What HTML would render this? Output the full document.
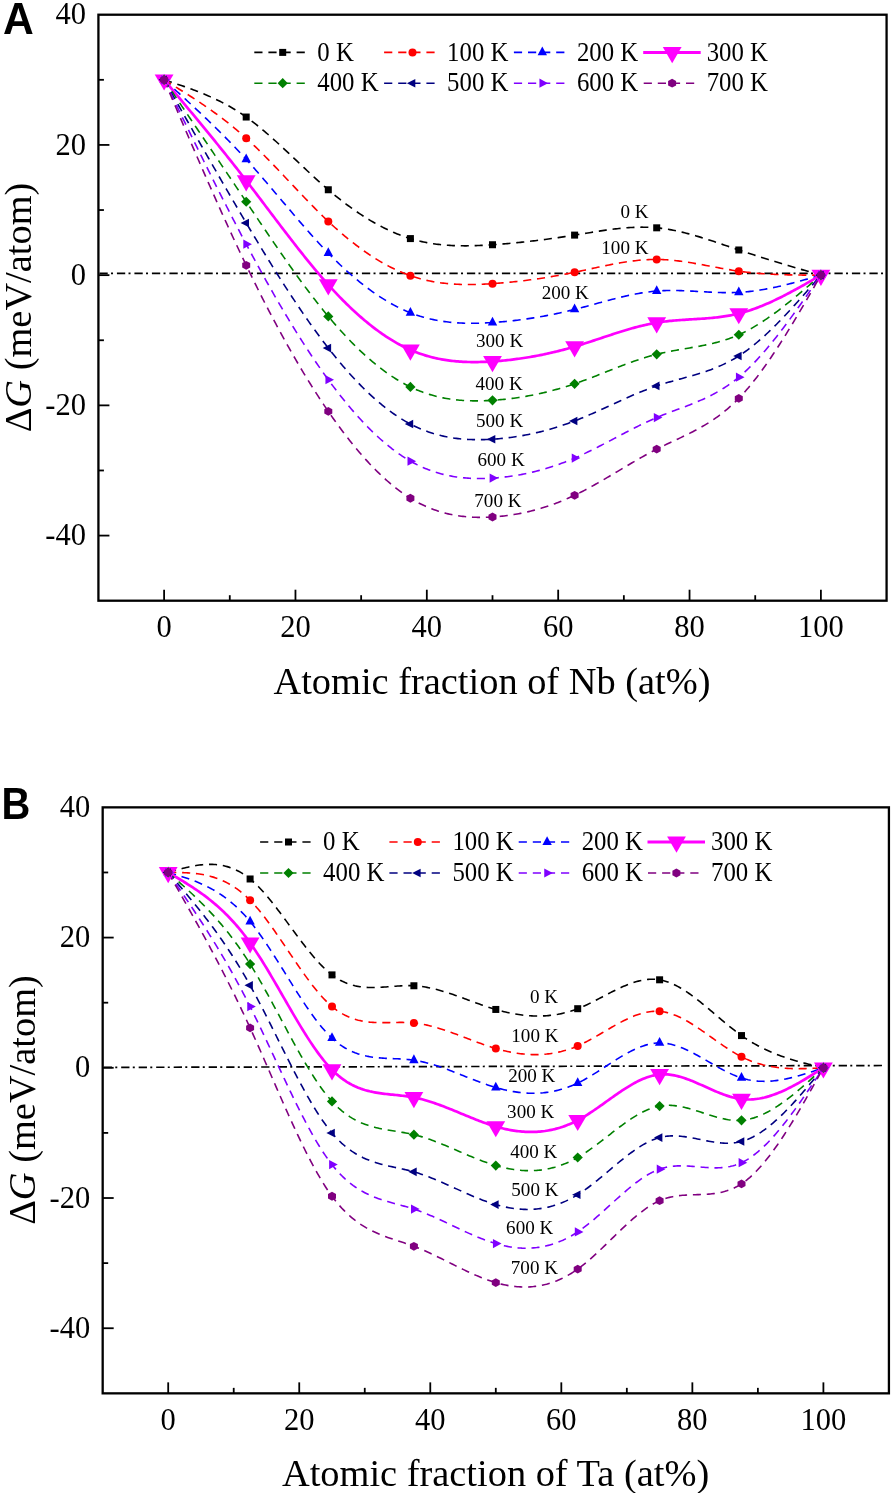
<!DOCTYPE html>
<html><head><meta charset="utf-8"><style>
html,body{margin:0;padding:0;background:#fff;}
svg{display:block;will-change:transform;}
text{font-family:"Liberation Serif",serif;fill:#000;}
.tk{font-size:30.5px;}
.ti{font-size:38.4px;}
.lg{font-size:24.8px;}
.lb{font-size:19.1px;}
.pl{font-family:"Liberation Sans",sans-serif;font-weight:bold;font-size:41px;}
</style></head><body>
<svg width="894" height="1493" viewBox="0 0 894 1493">
<rect width="894" height="1493" fill="#fff"/>
<line x1="99.42" y1="273.4" x2="885.5" y2="273.4" stroke="#000" stroke-width="1.7" stroke-dasharray="8.3 3.3 2 3.9"/>
<path d="M164.1 79.82 165.74 80.35 167.38 80.89 169.03 81.43 170.67 81.96 172.31 82.5 173.95 83.05 175.59 83.59 177.24 84.14 178.88 84.69 180.52 85.25 182.16 85.81 183.8 86.38 185.45 86.95 187.09 87.53 188.73 88.12 190.37 88.72 192.01 89.32 193.66 89.93 195.3 90.55 196.94 91.18 198.58 91.82 200.22 92.47 201.87 93.13 203.51 93.81 205.15 94.49 206.79 95.19 208.43 95.9 210.08 96.63 211.72 97.37 213.36 98.12 215 98.89 216.64 99.67 218.29 100.47 219.93 101.29 221.57 102.12 223.21 102.98 224.85 103.85 226.5 104.73 228.14 105.64 229.78 106.57 231.42 107.52 233.06 108.48 234.71 109.47 236.35 110.48 237.99 111.52 239.63 112.57 241.27 113.65 242.92 114.75 244.56 115.88 246.2 117.03 247.84 118.21 249.48 119.41 251.13 120.63 252.77 121.88 254.41 123.15 256.05 124.44 257.69 125.75 259.34 127.08 260.98 128.42 262.62 129.79 264.26 131.17 265.9 132.57 267.55 133.99 269.19 135.42 270.83 136.86 272.47 138.32 274.11 139.78 275.76 141.26 277.4 142.75 279.04 144.25 280.68 145.76 282.32 147.28 283.97 148.8 285.61 150.33 287.25 151.87 288.89 153.41 290.53 154.96 292.18 156.51 293.82 158.06 295.46 159.61 297.1 161.16 298.74 162.72 300.39 164.27 302.03 165.82 303.67 167.37 305.31 168.92 306.95 170.46 308.6 171.99 310.24 173.53 311.88 175.05 313.52 176.57 315.16 178.08 316.81 179.58 318.45 181.07 320.09 182.55 321.73 184.01 323.37 185.47 325.02 186.91 326.66 188.34 328.3 189.76 329.94 191.16 331.58 192.54 333.23 193.91 334.87 195.26 336.51 196.6 338.15 197.92 339.79 199.23 341.44 200.51 343.08 201.79 344.72 203.04 346.36 204.28 348 205.5 349.65 206.71 351.29 207.9 352.93 209.07 354.57 210.23 356.21 211.37 357.86 212.49 359.5 213.59 361.14 214.68 362.78 215.74 364.42 216.79 366.07 217.83 367.71 218.84 369.35 219.84 370.99 220.82 372.63 221.78 374.28 222.72 375.92 223.65 377.56 224.55 379.2 225.44 380.84 226.31 382.49 227.15 384.13 227.98 385.77 228.79 387.41 229.59 389.05 230.36 390.7 231.11 392.34 231.84 393.98 232.56 395.62 233.25 397.26 233.93 398.91 234.58 400.55 235.21 402.19 235.83 403.83 236.42 405.47 236.99 407.12 237.55 408.76 238.08 410.4 238.59 412.04 239.08 413.68 239.55 415.33 240 416.97 240.43 418.61 240.84 420.25 241.23 421.89 241.61 423.54 241.96 425.18 242.3 426.82 242.61 428.46 242.92 430.1 243.2 431.75 243.47 433.39 243.72 435.03 243.95 436.67 244.17 438.31 244.38 439.96 244.56 441.6 244.74 443.24 244.9 444.88 245.04 446.52 245.18 448.17 245.29 449.81 245.4 451.45 245.49 453.09 245.58 454.73 245.64 456.38 245.7 458.02 245.75 459.66 245.78 461.3 245.81 462.94 245.82 464.59 245.83 466.23 245.83 467.87 245.81 469.51 245.79 471.15 245.76 472.8 245.72 474.44 245.67 476.08 245.62 477.72 245.56 479.36 245.49 481.01 245.42 482.65 245.33 484.29 245.25 485.93 245.16 487.57 245.06 489.22 244.96 490.86 244.85 492.5 244.74 494.14 244.63 495.78 244.51 497.43 244.39 499.07 244.27 500.71 244.14 502.35 244.01 503.99 243.87 505.64 243.74 507.28 243.59 508.92 243.45 510.56 243.3 512.2 243.15 513.85 242.99 515.49 242.84 517.13 242.67 518.77 242.51 520.41 242.34 522.06 242.17 523.7 241.99 525.34 241.81 526.98 241.63 528.62 241.45 530.27 241.26 531.91 241.07 533.55 240.88 535.19 240.68 536.83 240.48 538.48 240.28 540.12 240.07 541.76 239.86 543.4 239.65 545.04 239.44 546.69 239.22 548.33 239 549.97 238.78 551.61 238.55 553.25 238.32 554.9 238.09 556.54 237.86 558.18 237.62 559.82 237.38 561.46 237.14 563.11 236.89 564.75 236.65 566.39 236.4 568.03 236.14 569.67 235.89 571.32 235.63 572.96 235.37 574.6 235.11 576.24 234.84 577.88 234.58 579.53 234.31 581.17 234.04 582.81 233.77 584.45 233.5 586.09 233.23 587.74 232.96 589.38 232.69 591.02 232.42 592.66 232.15 594.3 231.89 595.95 231.63 597.59 231.37 599.23 231.12 600.87 230.87 602.51 230.62 604.16 230.38 605.8 230.15 607.44 229.92 609.08 229.69 610.72 229.48 612.37 229.27 614.01 229.06 615.65 228.87 617.29 228.68 618.93 228.51 620.58 228.34 622.22 228.18 623.86 228.03 625.5 227.89 627.14 227.76 628.79 227.65 630.43 227.54 632.07 227.45 633.71 227.37 635.35 227.3 637 227.25 638.64 227.21 640.28 227.19 641.92 227.17 643.56 227.18 645.21 227.2 646.85 227.24 648.49 227.29 650.13 227.36 651.77 227.45 653.42 227.55 655.06 227.67 656.7 227.82 658.34 227.98 659.98 228.15 661.63 228.35 663.27 228.57 664.91 228.8 666.55 229.05 668.19 229.31 669.84 229.59 671.48 229.89 673.12 230.2 674.76 230.53 676.4 230.87 678.05 231.22 679.69 231.59 681.33 231.97 682.97 232.37 684.61 232.77 686.26 233.19 687.9 233.61 689.54 234.05 691.18 234.5 692.82 234.96 694.47 235.43 696.11 235.9 697.75 236.39 699.39 236.88 701.03 237.38 702.68 237.89 704.32 238.41 705.96 238.93 707.6 239.45 709.24 239.99 710.89 240.52 712.53 241.06 714.17 241.61 715.81 242.16 717.45 242.71 719.1 243.27 720.74 243.82 722.38 244.38 724.02 244.94 725.66 245.51 727.31 246.07 728.95 246.63 730.59 247.19 732.23 247.76 733.87 248.32 735.52 248.87 737.16 249.43 738.8 249.98 740.44 250.54 742.08 251.08 743.73 251.63 745.37 252.17 747.01 252.71 748.65 253.25 750.29 253.78 751.94 254.32 753.58 254.85 755.22 255.37 756.86 255.9 758.5 256.42 760.15 256.94 761.79 257.46 763.43 257.97 765.07 258.49 766.71 259 768.36 259.51 770 260.02 771.64 260.52 773.28 261.03 774.92 261.53 776.57 262.03 778.21 262.53 779.85 263.03 781.49 263.53 783.13 264.02 784.78 264.51 786.42 265.01 788.06 265.5 789.7 265.99 791.34 266.48 792.99 266.96 794.63 267.45 796.27 267.94 797.91 268.42 799.55 268.91 801.2 269.39 802.84 269.87 804.48 270.35 806.12 270.84 807.76 271.32 809.41 271.8 811.05 272.28 812.69 272.76 814.33 273.23 815.97 273.71 817.62 274.19 819.26 274.67 820.9 275.15" fill="none" stroke="#000000" stroke-width="1.6" stroke-dasharray="8.1 5.8"/>
<path d="M164.1 79.82 165.74 80.83 167.38 81.84 169.03 82.85 170.67 83.86 172.31 84.87 173.95 85.89 175.59 86.91 177.24 87.93 178.88 88.95 180.52 89.98 182.16 91.01 183.8 92.04 185.45 93.08 187.09 94.12 188.73 95.17 190.37 96.23 192.01 97.29 193.66 98.36 195.3 99.43 196.94 100.51 198.58 101.6 200.22 102.7 201.87 103.81 203.51 104.92 205.15 106.04 206.79 107.18 208.43 108.32 210.08 109.47 211.72 110.64 213.36 111.81 215 113 216.64 114.2 218.29 115.41 219.93 116.63 221.57 117.87 223.21 119.11 224.85 120.38 226.5 121.65 228.14 122.95 229.78 124.25 231.42 125.57 233.06 126.91 234.71 128.26 236.35 129.63 237.99 131.02 239.63 132.42 241.27 133.84 242.92 135.28 244.56 136.74 246.2 138.21 247.84 139.71 249.48 141.22 251.13 142.75 252.77 144.3 254.41 145.86 256.05 147.44 257.69 149.03 259.34 150.64 260.98 152.26 262.62 153.89 264.26 155.54 265.9 157.2 267.55 158.86 269.19 160.54 270.83 162.23 272.47 163.92 274.11 165.62 275.76 167.33 277.4 169.05 279.04 170.77 280.68 172.49 282.32 174.22 283.97 175.95 285.61 177.69 287.25 179.43 288.89 181.17 290.53 182.91 292.18 184.64 293.82 186.38 295.46 188.12 297.1 189.85 298.74 191.59 300.39 193.31 302.03 195.04 303.67 196.75 305.31 198.47 306.95 200.17 308.6 201.87 310.24 203.56 311.88 205.24 313.52 206.91 315.16 208.58 316.81 210.23 318.45 211.87 320.09 213.49 321.73 215.11 323.37 216.71 325.02 218.3 326.66 219.87 328.3 221.42 329.94 222.96 331.58 224.48 333.23 225.99 334.87 227.48 336.51 228.95 338.15 230.41 339.79 231.84 341.44 233.26 343.08 234.67 344.72 236.05 346.36 237.42 348 238.77 349.65 240.1 351.29 241.41 352.93 242.71 354.57 243.99 356.21 245.24 357.86 246.48 359.5 247.71 361.14 248.91 362.78 250.09 364.42 251.26 366.07 252.4 367.71 253.53 369.35 254.64 370.99 255.72 372.63 256.79 374.28 257.84 375.92 258.87 377.56 259.88 379.2 260.87 380.84 261.84 382.49 262.78 384.13 263.71 385.77 264.62 387.41 265.5 389.05 266.37 390.7 267.22 392.34 268.04 393.98 268.84 395.62 269.62 397.26 270.38 398.91 271.12 400.55 271.84 402.19 272.53 403.83 273.21 405.47 273.86 407.12 274.49 408.76 275.1 410.4 275.68 412.04 276.24 413.68 276.79 415.33 277.3 416.97 277.8 418.61 278.28 420.25 278.73 421.89 279.17 423.54 279.59 425.18 279.98 426.82 280.36 428.46 280.72 430.1 281.05 431.75 281.38 433.39 281.68 435.03 281.96 436.67 282.23 438.31 282.48 439.96 282.72 441.6 282.94 443.24 283.14 444.88 283.33 446.52 283.5 448.17 283.66 449.81 283.8 451.45 283.93 453.09 284.05 454.73 284.15 456.38 284.24 458.02 284.32 459.66 284.38 461.3 284.44 462.94 284.48 464.59 284.51 466.23 284.53 467.87 284.53 469.51 284.53 471.15 284.52 472.8 284.5 474.44 284.47 476.08 284.43 477.72 284.38 479.36 284.33 481.01 284.27 482.65 284.2 484.29 284.12 485.93 284.03 487.57 283.94 489.22 283.85 490.86 283.74 492.5 283.64 494.14 283.52 495.78 283.41 497.43 283.28 499.07 283.16 500.71 283.02 502.35 282.89 503.99 282.75 505.64 282.6 507.28 282.45 508.92 282.29 510.56 282.13 512.2 281.96 513.85 281.79 515.49 281.62 517.13 281.44 518.77 281.25 520.41 281.06 522.06 280.87 523.7 280.67 525.34 280.47 526.98 280.26 528.62 280.05 530.27 279.83 531.91 279.61 533.55 279.38 535.19 279.15 536.83 278.91 538.48 278.67 540.12 278.43 541.76 278.18 543.4 277.92 545.04 277.67 546.69 277.4 548.33 277.14 549.97 276.87 551.61 276.59 553.25 276.31 554.9 276.02 556.54 275.74 558.18 275.44 559.82 275.15 561.46 274.84 563.11 274.54 564.75 274.23 566.39 273.91 568.03 273.59 569.67 273.27 571.32 272.94 572.96 272.61 574.6 272.27 576.24 271.93 577.88 271.59 579.53 271.24 581.17 270.89 582.81 270.54 584.45 270.19 586.09 269.83 587.74 269.48 589.38 269.12 591.02 268.76 592.66 268.4 594.3 268.05 595.95 267.69 597.59 267.34 599.23 266.99 600.87 266.64 602.51 266.29 604.16 265.95 605.8 265.61 607.44 265.27 609.08 264.94 610.72 264.62 612.37 264.3 614.01 263.99 615.65 263.68 617.29 263.38 618.93 263.09 620.58 262.81 622.22 262.53 623.86 262.26 625.5 262 627.14 261.76 628.79 261.52 630.43 261.29 632.07 261.07 633.71 260.87 635.35 260.67 637 260.49 638.64 260.32 640.28 260.17 641.92 260.03 643.56 259.9 645.21 259.78 646.85 259.69 648.49 259.6 650.13 259.54 651.77 259.49 653.42 259.45 655.06 259.44 656.7 259.44 658.34 259.46 659.98 259.49 661.63 259.55 663.27 259.62 664.91 259.7 666.55 259.8 668.19 259.92 669.84 260.05 671.48 260.19 673.12 260.35 674.76 260.52 676.4 260.7 678.05 260.89 679.69 261.1 681.33 261.31 682.97 261.54 684.61 261.77 686.26 262.02 687.9 262.27 689.54 262.53 691.18 262.79 692.82 263.06 694.47 263.34 696.11 263.63 697.75 263.92 699.39 264.21 701.03 264.51 702.68 264.81 704.32 265.11 705.96 265.42 707.6 265.73 709.24 266.04 710.89 266.35 712.53 266.66 714.17 266.96 715.81 267.27 717.45 267.58 719.1 267.88 720.74 268.19 722.38 268.49 724.02 268.78 725.66 269.07 727.31 269.36 728.95 269.64 730.59 269.91 732.23 270.18 733.87 270.44 735.52 270.7 737.16 270.94 738.8 271.18 740.44 271.41 742.08 271.63 743.73 271.84 745.37 272.04 747.01 272.23 748.65 272.41 750.29 272.59 751.94 272.76 753.58 272.92 755.22 273.07 756.86 273.22 758.5 273.36 760.15 273.49 761.79 273.62 763.43 273.74 765.07 273.85 766.71 273.95 768.36 274.05 770 274.15 771.64 274.24 773.28 274.32 774.92 274.4 776.57 274.47 778.21 274.54 779.85 274.6 781.49 274.66 783.13 274.71 784.78 274.76 786.42 274.81 788.06 274.85 789.7 274.88 791.34 274.92 792.99 274.95 794.63 274.98 796.27 275 797.91 275.03 799.55 275.04 801.2 275.06 802.84 275.08 804.48 275.09 806.12 275.1 807.76 275.11 809.41 275.12 811.05 275.13 812.69 275.13 814.33 275.14 815.97 275.14 817.62 275.14 819.26 275.15 820.9 275.15" fill="none" stroke="#FF0000" stroke-width="1.6" stroke-dasharray="8.1 5.8"/>
<path d="M164.1 79.82 165.74 81.3 167.38 82.79 169.03 84.27 170.67 85.76 172.31 87.25 173.95 88.73 175.59 90.22 177.24 91.72 178.88 93.21 180.52 94.7 182.16 96.2 183.8 97.7 185.45 99.21 187.09 100.72 188.73 102.23 190.37 103.74 192.01 105.26 193.66 106.79 195.3 108.31 196.94 109.85 198.58 111.39 200.22 112.93 201.87 114.48 203.51 116.03 205.15 117.6 206.79 119.16 208.43 120.74 210.08 122.32 211.72 123.91 213.36 125.5 215 127.11 216.64 128.72 218.29 130.34 219.93 131.97 221.57 133.61 223.21 135.25 224.85 136.91 226.5 138.57 228.14 140.25 229.78 141.93 231.42 143.63 233.06 145.34 234.71 147.05 236.35 148.78 237.99 150.52 239.63 152.27 241.27 154.03 242.92 155.81 244.56 157.6 246.2 159.4 247.84 161.21 249.48 163.03 251.13 164.87 252.77 166.72 254.41 168.57 256.05 170.44 257.69 172.32 259.34 174.2 260.98 176.1 262.62 178 264.26 179.91 265.9 181.82 267.55 183.74 269.19 185.66 270.83 187.59 272.47 189.53 274.11 191.46 275.76 193.4 277.4 195.34 279.04 197.28 280.68 199.22 282.32 201.16 283.97 203.11 285.61 205.05 287.25 206.98 288.89 208.92 290.53 210.85 292.18 212.78 293.82 214.71 295.46 216.63 297.1 218.54 298.74 220.45 300.39 222.36 302.03 224.25 303.67 226.14 305.31 228.02 306.95 229.89 308.6 231.75 310.24 233.6 311.88 235.43 313.52 237.26 315.16 239.08 316.81 240.88 318.45 242.67 320.09 244.44 321.73 246.2 323.37 247.95 325.02 249.68 326.66 251.39 328.3 253.09 329.94 254.77 331.58 256.43 333.23 258.07 334.87 259.7 336.51 261.3 338.15 262.89 339.79 264.46 341.44 266.01 343.08 267.55 344.72 269.06 346.36 270.56 348 272.03 349.65 273.49 351.29 274.93 352.93 276.34 354.57 277.74 356.21 279.12 357.86 280.48 359.5 281.82 361.14 283.14 362.78 284.44 364.42 285.72 366.07 286.98 367.71 288.22 369.35 289.43 370.99 290.63 372.63 291.81 374.28 292.96 375.92 294.09 377.56 295.21 379.2 296.3 380.84 297.37 382.49 298.41 384.13 299.44 385.77 300.44 387.41 301.42 389.05 302.38 390.7 303.32 392.34 304.23 393.98 305.13 395.62 305.99 397.26 306.84 398.91 307.66 400.55 308.46 402.19 309.24 403.83 309.99 405.47 310.72 407.12 311.43 408.76 312.11 410.4 312.77 412.04 313.41 413.68 314.02 415.33 314.61 416.97 315.17 418.61 315.71 420.25 316.24 421.89 316.73 423.54 317.21 425.18 317.67 426.82 318.1 428.46 318.52 430.1 318.91 431.75 319.29 433.39 319.64 435.03 319.98 436.67 320.29 438.31 320.59 439.96 320.88 441.6 321.14 443.24 321.39 444.88 321.62 446.52 321.83 448.17 322.03 449.81 322.21 451.45 322.37 453.09 322.52 454.73 322.66 456.38 322.78 458.02 322.89 459.66 322.98 461.3 323.06 462.94 323.13 464.59 323.18 466.23 323.23 467.87 323.26 469.51 323.28 471.15 323.28 472.8 323.28 474.44 323.27 476.08 323.24 477.72 323.21 479.36 323.17 481.01 323.12 482.65 323.06 484.29 322.99 485.93 322.91 487.57 322.82 489.22 322.73 490.86 322.63 492.5 322.53 494.14 322.42 495.78 322.3 497.43 322.17 499.07 322.04 500.71 321.91 502.35 321.76 503.99 321.62 505.64 321.46 507.28 321.3 508.92 321.13 510.56 320.96 512.2 320.78 513.85 320.59 515.49 320.4 517.13 320.2 518.77 320 520.41 319.79 522.06 319.57 523.7 319.35 525.34 319.12 526.98 318.88 528.62 318.64 530.27 318.39 531.91 318.14 533.55 317.88 535.19 317.62 536.83 317.34 538.48 317.07 540.12 316.78 541.76 316.49 543.4 316.2 545.04 315.9 546.69 315.59 548.33 315.27 549.97 314.95 551.61 314.63 553.25 314.3 554.9 313.96 556.54 313.62 558.18 313.27 559.82 312.91 561.46 312.55 563.11 312.18 564.75 311.81 566.39 311.43 568.03 311.04 569.67 310.65 571.32 310.25 572.96 309.85 574.6 309.44 576.24 309.03 577.88 308.61 579.53 308.18 581.17 307.75 582.81 307.32 584.45 306.88 586.09 306.44 587.74 305.99 589.38 305.55 591.02 305.1 592.66 304.65 594.3 304.2 595.95 303.75 597.59 303.3 599.23 302.85 600.87 302.41 602.51 301.96 604.16 301.51 605.8 301.07 607.44 300.63 609.08 300.2 610.72 299.76 612.37 299.34 614.01 298.91 615.65 298.49 617.29 298.08 618.93 297.67 620.58 297.27 622.22 296.88 623.86 296.5 625.5 296.12 627.14 295.75 628.79 295.39 630.43 295.04 632.07 294.69 633.71 294.36 635.35 294.04 637 293.73 638.64 293.44 640.28 293.15 641.92 292.88 643.56 292.62 645.21 292.37 646.85 292.14 648.49 291.92 650.13 291.72 651.77 291.53 653.42 291.35 655.06 291.2 656.7 291.06 658.34 290.94 659.98 290.83 661.63 290.74 663.27 290.66 664.91 290.6 666.55 290.56 668.19 290.52 669.84 290.5 671.48 290.49 673.12 290.5 674.76 290.51 676.4 290.53 678.05 290.56 679.69 290.61 681.33 290.65 682.97 290.71 684.61 290.77 686.26 290.84 687.9 290.92 689.54 291 691.18 291.08 692.82 291.17 694.47 291.26 696.11 291.35 697.75 291.44 699.39 291.54 701.03 291.63 702.68 291.73 704.32 291.82 705.96 291.91 707.6 292 709.24 292.09 710.89 292.17 712.53 292.25 714.17 292.32 715.81 292.39 717.45 292.45 719.1 292.5 720.74 292.55 722.38 292.59 724.02 292.62 725.66 292.64 727.31 292.64 728.95 292.64 730.59 292.63 732.23 292.61 733.87 292.57 735.52 292.52 737.16 292.45 738.8 292.37 740.44 292.28 742.08 292.17 743.73 292.04 745.37 291.9 747.01 291.75 748.65 291.58 750.29 291.4 751.94 291.2 753.58 291 755.22 290.78 756.86 290.54 758.5 290.3 760.15 290.04 761.79 289.78 763.43 289.5 765.07 289.21 766.71 288.91 768.36 288.6 770 288.28 771.64 287.95 773.28 287.61 774.92 287.26 776.57 286.91 778.21 286.54 779.85 286.17 781.49 285.79 783.13 285.4 784.78 285.01 786.42 284.6 788.06 284.2 789.7 283.78 791.34 283.36 792.99 282.94 794.63 282.5 796.27 282.07 797.91 281.63 799.55 281.18 801.2 280.74 802.84 280.28 804.48 279.83 806.12 279.37 807.76 278.91 809.41 278.44 811.05 277.98 812.69 277.51 814.33 277.04 815.97 276.57 817.62 276.1 819.26 275.62 820.9 275.15" fill="none" stroke="#0000FF" stroke-width="1.6" stroke-dasharray="8.1 5.8"/>
<path d="M164.1 79.82 165.74 81.78 167.38 83.74 169.03 85.7 170.67 87.66 172.31 89.62 173.95 91.58 175.59 93.54 177.24 95.5 178.88 97.47 180.52 99.43 182.16 101.4 183.8 103.37 185.45 105.34 187.09 107.31 188.73 109.28 190.37 111.26 192.01 113.23 193.66 115.21 195.3 117.2 196.94 119.18 198.58 121.17 200.22 123.16 201.87 125.15 203.51 127.15 205.15 129.15 206.79 131.15 208.43 133.16 210.08 135.17 211.72 137.18 213.36 139.2 215 141.22 216.64 143.24 218.29 145.27 219.93 147.31 221.57 149.35 223.21 151.39 224.85 153.44 226.5 155.5 228.14 157.55 229.78 159.62 231.42 161.69 233.06 163.76 234.71 165.84 236.35 167.93 237.99 170.02 239.63 172.12 241.27 174.23 242.92 176.34 244.56 178.45 246.2 180.58 247.84 182.71 249.48 184.85 251.13 186.99 252.77 189.14 254.41 191.29 256.05 193.44 257.69 195.61 259.34 197.77 260.98 199.93 262.62 202.1 264.26 204.27 265.9 206.44 267.55 208.62 269.19 210.79 270.83 212.96 272.47 215.13 274.11 217.3 275.76 219.47 277.4 221.63 279.04 223.79 280.68 225.95 282.32 228.11 283.97 230.26 285.61 232.4 287.25 234.54 288.89 236.67 290.53 238.8 292.18 240.92 293.82 243.03 295.46 245.14 297.1 247.23 298.74 249.32 300.39 251.4 302.03 253.46 303.67 255.52 305.31 257.57 306.95 259.6 308.6 261.62 310.24 263.63 311.88 265.63 313.52 267.61 315.16 269.58 316.81 271.53 318.45 273.47 320.09 275.39 321.73 277.3 323.37 279.19 325.02 281.06 326.66 282.92 328.3 284.75 329.94 286.57 331.58 288.37 333.23 290.15 334.87 291.91 336.51 293.65 338.15 295.38 339.79 297.08 341.44 298.76 343.08 300.43 344.72 302.07 346.36 303.69 348 305.3 349.65 306.88 351.29 308.44 352.93 309.98 354.57 311.5 356.21 313 357.86 314.48 359.5 315.94 361.14 317.37 362.78 318.79 364.42 320.18 366.07 321.55 367.71 322.9 369.35 324.23 370.99 325.54 372.63 326.82 374.28 328.08 375.92 329.32 377.56 330.53 379.2 331.73 380.84 332.9 382.49 334.04 384.13 335.16 385.77 336.26 387.41 337.34 389.05 338.39 390.7 339.42 392.34 340.43 393.98 341.41 395.62 342.37 397.26 343.3 398.91 344.21 400.55 345.09 402.19 345.95 403.83 346.78 405.47 347.59 407.12 348.37 408.76 349.13 410.4 349.86 412.04 350.57 413.68 351.25 415.33 351.91 416.97 352.54 418.61 353.15 420.25 353.74 421.89 354.3 423.54 354.84 425.18 355.35 426.82 355.84 428.46 356.32 430.1 356.77 431.75 357.19 433.39 357.6 435.03 357.99 436.67 358.36 438.31 358.7 439.96 359.03 441.6 359.34 443.24 359.63 444.88 359.9 446.52 360.16 448.17 360.39 449.81 360.61 451.45 360.81 453.09 361 454.73 361.17 456.38 361.32 458.02 361.46 459.66 361.58 461.3 361.69 462.94 361.78 464.59 361.86 466.23 361.93 467.87 361.98 469.51 362.02 471.15 362.05 472.8 362.06 474.44 362.07 476.08 362.06 477.72 362.04 479.36 362.01 481.01 361.97 482.65 361.92 484.29 361.86 485.93 361.79 487.57 361.71 489.22 361.62 490.86 361.52 492.5 361.42 494.14 361.31 495.78 361.19 497.43 361.07 499.07 360.93 500.71 360.79 502.35 360.64 503.99 360.49 505.64 360.32 507.28 360.15 508.92 359.97 510.56 359.79 512.2 359.59 513.85 359.39 515.49 359.18 517.13 358.96 518.77 358.74 520.41 358.51 522.06 358.27 523.7 358.02 525.34 357.77 526.98 357.51 528.62 357.24 530.27 356.96 531.91 356.68 533.55 356.38 535.19 356.08 536.83 355.78 538.48 355.46 540.12 355.14 541.76 354.81 543.4 354.47 545.04 354.13 546.69 353.77 548.33 353.41 549.97 353.04 551.61 352.67 553.25 352.28 554.9 351.89 556.54 351.5 558.18 351.09 559.82 350.68 561.46 350.25 563.11 349.82 564.75 349.39 566.39 348.94 568.03 348.49 569.67 348.03 571.32 347.57 572.96 347.09 574.6 346.61 576.24 346.12 577.88 345.62 579.53 345.12 581.17 344.61 582.81 344.09 584.45 343.57 586.09 343.04 587.74 342.51 589.38 341.98 591.02 341.44 592.66 340.9 594.3 340.36 595.95 339.82 597.59 339.27 599.23 338.72 600.87 338.18 602.51 337.63 604.16 337.08 605.8 336.54 607.44 335.99 609.08 335.45 610.72 334.91 612.37 334.37 614.01 333.84 615.65 333.31 617.29 332.78 618.93 332.26 620.58 331.74 622.22 331.23 623.86 330.73 625.5 330.23 627.14 329.74 628.79 329.26 630.43 328.78 632.07 328.32 633.71 327.86 635.35 327.41 637 326.98 638.64 326.55 640.28 326.13 641.92 325.73 643.56 325.34 645.21 324.96 646.85 324.59 648.49 324.23 650.13 323.89 651.77 323.57 653.42 323.26 655.06 322.96 656.7 322.68 658.34 322.42 659.98 322.17 661.63 321.93 663.27 321.71 664.91 321.51 666.55 321.31 668.19 321.13 669.84 320.96 671.48 320.8 673.12 320.64 674.76 320.5 676.4 320.36 678.05 320.23 679.69 320.11 681.33 320 682.97 319.88 684.61 319.78 686.26 319.67 687.9 319.57 689.54 319.47 691.18 319.37 692.82 319.27 694.47 319.17 696.11 319.07 697.75 318.97 699.39 318.87 701.03 318.76 702.68 318.64 704.32 318.53 705.96 318.4 707.6 318.27 709.24 318.14 710.89 317.99 712.53 317.84 714.17 317.67 715.81 317.5 717.45 317.32 719.1 317.12 720.74 316.91 722.38 316.69 724.02 316.45 725.66 316.2 727.31 315.93 728.95 315.65 730.59 315.35 732.23 315.03 733.87 314.69 735.52 314.34 737.16 313.96 738.8 313.56 740.44 313.15 742.08 312.71 743.73 312.25 745.37 311.77 747.01 311.26 748.65 310.74 750.29 310.21 751.94 309.65 753.58 309.07 755.22 308.48 756.86 307.87 758.5 307.24 760.15 306.59 761.79 305.93 763.43 305.26 765.07 304.57 766.71 303.86 768.36 303.14 770 302.41 771.64 301.66 773.28 300.9 774.92 300.13 776.57 299.34 778.21 298.55 779.85 297.74 781.49 296.92 783.13 296.09 784.78 295.25 786.42 294.4 788.06 293.54 789.7 292.68 791.34 291.8 792.99 290.92 794.63 290.03 796.27 289.14 797.91 288.23 799.55 287.32 801.2 286.41 802.84 285.49 804.48 284.56 806.12 283.63 807.76 282.7 809.41 281.77 811.05 280.83 812.69 279.88 814.33 278.94 815.97 277.99 817.62 277.05 819.26 276.1 820.9 275.15" fill="none" stroke="#FF00FF" stroke-width="2.7" stroke-linejoin="round"/>
<path d="M164.1 79.82 165.74 82.25 167.38 84.69 169.03 87.12 170.67 89.56 172.31 91.99 173.95 94.42 175.59 96.86 177.24 99.29 178.88 101.73 180.52 104.16 182.16 106.6 183.8 109.03 185.45 111.46 187.09 113.9 188.73 116.33 190.37 118.77 192.01 121.21 193.66 123.64 195.3 126.08 196.94 128.51 198.58 130.95 200.22 133.39 201.87 135.82 203.51 138.26 205.15 140.7 206.79 143.14 208.43 145.57 210.08 148.01 211.72 150.45 213.36 152.89 215 155.33 216.64 157.77 218.29 160.21 219.93 162.65 221.57 165.09 223.21 167.53 224.85 169.97 226.5 172.42 228.14 174.86 229.78 177.3 231.42 179.74 233.06 182.19 234.71 184.63 236.35 187.08 237.99 189.52 239.63 191.97 241.27 194.42 242.92 196.86 244.56 199.31 246.2 201.76 247.84 204.21 249.48 206.66 251.13 209.11 252.77 211.56 254.41 214 256.05 216.45 257.69 218.89 259.34 221.33 260.98 223.77 262.62 226.21 264.26 228.64 265.9 231.07 267.55 233.49 269.19 235.91 270.83 238.33 272.47 240.73 274.11 243.14 275.76 245.53 277.4 247.92 279.04 250.31 280.68 252.68 282.32 255.05 283.97 257.41 285.61 259.76 287.25 262.1 288.89 264.43 290.53 266.75 292.18 269.06 293.82 271.36 295.46 273.65 297.1 275.92 298.74 278.19 300.39 280.44 302.03 282.68 303.67 284.9 305.31 287.12 306.95 289.31 308.6 291.5 310.24 293.67 311.88 295.82 313.52 297.96 315.16 300.08 316.81 302.18 318.45 304.27 320.09 306.34 321.73 308.39 323.37 310.43 325.02 312.44 326.66 314.44 328.3 316.42 329.94 318.38 331.58 320.31 333.23 322.23 334.87 324.13 336.51 326.01 338.15 327.86 339.79 329.7 341.44 331.51 343.08 333.31 344.72 335.08 346.36 336.83 348 338.56 349.65 340.27 351.29 341.95 352.93 343.62 354.57 345.26 356.21 346.88 357.86 348.48 359.5 350.05 361.14 351.61 362.78 353.14 364.42 354.64 366.07 356.13 367.71 357.59 369.35 359.03 370.99 360.44 372.63 361.83 374.28 363.2 375.92 364.54 377.56 365.86 379.2 367.16 380.84 368.43 382.49 369.67 384.13 370.89 385.77 372.09 387.41 373.26 389.05 374.41 390.7 375.53 392.34 376.62 393.98 377.69 395.62 378.74 397.26 379.75 398.91 380.75 400.55 381.71 402.19 382.65 403.83 383.57 405.47 384.45 407.12 385.31 408.76 386.15 410.4 386.95 412.04 387.73 413.68 388.49 415.33 389.21 416.97 389.91 418.61 390.59 420.25 391.24 421.89 391.86 423.54 392.46 425.18 393.04 426.82 393.59 428.46 394.12 430.1 394.62 431.75 395.1 433.39 395.56 435.03 396 436.67 396.42 438.31 396.81 439.96 397.19 441.6 397.54 443.24 397.87 444.88 398.19 446.52 398.48 448.17 398.76 449.81 399.01 451.45 399.25 453.09 399.47 454.73 399.67 456.38 399.86 458.02 400.03 459.66 400.18 461.3 400.32 462.94 400.43 464.59 400.54 466.23 400.63 467.87 400.7 469.51 400.76 471.15 400.81 472.8 400.84 474.44 400.86 476.08 400.87 477.72 400.86 479.36 400.85 481.01 400.82 482.65 400.78 484.29 400.72 485.93 400.66 487.57 400.59 489.22 400.51 490.86 400.41 492.5 400.31 494.14 400.2 495.78 400.08 497.43 399.96 499.07 399.82 500.71 399.67 502.35 399.52 503.99 399.36 505.64 399.18 507.28 399 508.92 398.81 510.56 398.61 512.2 398.41 513.85 398.19 515.49 397.96 517.13 397.73 518.77 397.48 520.41 397.23 522.06 396.97 523.7 396.7 525.34 396.42 526.98 396.13 528.62 395.83 530.27 395.53 531.91 395.21 533.55 394.89 535.19 394.55 536.83 394.21 538.48 393.86 540.12 393.49 541.76 393.12 543.4 392.74 545.04 392.35 546.69 391.96 548.33 391.55 549.97 391.13 551.61 390.71 553.25 390.27 554.9 389.83 556.54 389.38 558.18 388.91 559.82 388.44 561.46 387.96 563.11 387.47 564.75 386.97 566.39 386.46 568.03 385.94 569.67 385.41 571.32 384.88 572.96 384.33 574.6 383.78 576.24 383.21 577.88 382.64 579.53 382.05 581.17 381.46 582.81 380.87 584.45 380.26 586.09 379.65 587.74 379.03 589.38 378.41 591.02 377.78 592.66 377.15 594.3 376.52 595.95 375.88 597.59 375.24 599.23 374.59 600.87 373.94 602.51 373.3 604.16 372.65 605.8 372 607.44 371.35 609.08 370.7 610.72 370.05 612.37 369.41 614.01 368.76 615.65 368.12 617.29 367.48 618.93 366.84 620.58 366.21 622.22 365.58 623.86 364.96 625.5 364.34 627.14 363.73 628.79 363.13 630.43 362.53 632.07 361.94 633.71 361.36 635.35 360.78 637 360.22 638.64 359.66 640.28 359.11 641.92 358.58 643.56 358.05 645.21 357.54 646.85 357.04 648.49 356.55 650.13 356.07 651.77 355.61 653.42 355.16 655.06 354.72 656.7 354.3 658.34 353.9 659.98 353.51 661.63 353.13 663.27 352.76 664.91 352.41 666.55 352.07 668.19 351.73 669.84 351.41 671.48 351.1 673.12 350.79 674.76 350.49 676.4 350.19 678.05 349.9 679.69 349.62 681.33 349.34 682.97 349.06 684.61 348.78 686.26 348.5 687.9 348.22 689.54 347.94 691.18 347.66 692.82 347.38 694.47 347.09 696.11 346.8 697.75 346.5 699.39 346.19 701.03 345.88 702.68 345.56 704.32 345.23 705.96 344.9 707.6 344.55 709.24 344.19 710.89 343.81 712.53 343.43 714.17 343.03 715.81 342.61 717.45 342.18 719.1 341.74 720.74 341.27 722.38 340.79 724.02 340.29 725.66 339.76 727.31 339.22 728.95 338.66 730.59 338.07 732.23 337.46 733.87 336.82 735.52 336.16 737.16 335.47 738.8 334.76 740.44 334.02 742.08 333.25 743.73 332.45 745.37 331.63 747.01 330.78 748.65 329.91 750.29 329.01 751.94 328.09 753.58 327.15 755.22 326.18 756.86 325.19 758.5 324.18 760.15 323.15 761.79 322.09 763.43 321.02 765.07 319.93 766.71 318.81 768.36 317.68 770 316.54 771.64 315.37 773.28 314.19 774.92 312.99 776.57 311.78 778.21 310.55 779.85 309.31 781.49 308.05 783.13 306.78 784.78 305.5 786.42 304.2 788.06 302.89 789.7 301.57 791.34 300.25 792.99 298.91 794.63 297.56 796.27 296.2 797.91 294.84 799.55 293.46 801.2 292.08 802.84 290.69 804.48 289.3 806.12 287.9 807.76 286.5 809.41 285.09 811.05 283.68 812.69 282.26 814.33 280.84 815.97 279.42 817.62 278 819.26 276.57 820.9 275.15" fill="none" stroke="#008000" stroke-width="1.6" stroke-dasharray="8.1 5.8"/>
<path d="M164.1 79.82 165.74 82.73 167.38 85.64 169.03 88.55 170.67 91.45 172.31 94.36 173.95 97.27 175.59 100.17 177.24 103.08 178.88 105.99 180.52 108.89 182.16 111.79 183.8 114.69 185.45 117.59 187.09 120.49 188.73 123.39 190.37 126.28 192.01 129.18 193.66 132.07 195.3 134.96 196.94 137.85 198.58 140.73 200.22 143.62 201.87 146.5 203.51 149.37 205.15 152.25 206.79 155.12 208.43 157.99 210.08 160.86 211.72 163.72 213.36 166.58 215 169.44 216.64 172.29 218.29 175.14 219.93 177.99 221.57 180.83 223.21 183.67 224.85 186.51 226.5 189.34 228.14 192.16 229.78 194.98 231.42 197.8 233.06 200.62 234.71 203.42 236.35 206.23 237.99 209.03 239.63 211.82 241.27 214.61 242.92 217.39 244.56 220.17 246.2 222.94 247.84 225.71 249.48 228.47 251.13 231.23 252.77 233.97 254.41 236.72 256.05 239.45 257.69 242.18 259.34 244.9 260.98 247.61 262.62 250.31 264.26 253.01 265.9 255.69 267.55 258.37 269.19 261.04 270.83 263.69 272.47 266.34 274.11 268.98 275.76 271.6 277.4 274.22 279.04 276.82 280.68 279.41 282.32 281.99 283.97 284.56 285.61 287.11 287.25 289.65 288.89 292.18 290.53 294.7 292.18 297.2 293.82 299.68 295.46 302.16 297.1 304.61 298.74 307.05 300.39 309.48 302.03 311.89 303.67 314.29 305.31 316.67 306.95 319.03 308.6 321.37 310.24 323.7 311.88 326.01 313.52 328.31 315.16 330.58 316.81 332.84 318.45 335.07 320.09 337.29 321.73 339.49 323.37 341.67 325.02 343.83 326.66 345.97 328.3 348.08 329.94 350.18 331.58 352.26 333.23 354.31 334.87 356.35 336.51 358.36 338.15 360.35 339.79 362.32 341.44 364.26 343.08 366.19 344.72 368.09 346.36 369.97 348 371.82 349.65 373.66 351.29 375.47 352.93 377.25 354.57 379.02 356.21 380.76 357.86 382.48 359.5 384.17 361.14 385.84 362.78 387.49 364.42 389.11 366.07 390.7 367.71 392.28 369.35 393.82 370.99 395.35 372.63 396.85 374.28 398.32 375.92 399.77 377.56 401.19 379.2 402.58 380.84 403.96 382.49 405.3 384.13 406.62 385.77 407.91 387.41 409.18 389.05 410.42 390.7 411.63 392.34 412.82 393.98 413.98 395.62 415.11 397.26 416.21 398.91 417.29 400.55 418.34 402.19 419.36 403.83 420.35 405.47 421.32 407.12 422.26 408.76 423.17 410.4 424.05 412.04 424.9 413.68 425.72 415.33 426.52 416.97 427.28 418.61 428.02 420.25 428.74 421.89 429.43 423.54 430.09 425.18 430.72 426.82 431.33 428.46 431.92 430.1 432.48 431.75 433.01 433.39 433.53 435.03 434.01 436.67 434.48 438.31 434.92 439.96 435.34 441.6 435.74 443.24 436.12 444.88 436.47 446.52 436.81 448.17 437.12 449.81 437.42 451.45 437.69 453.09 437.95 454.73 438.18 456.38 438.4 458.02 438.6 459.66 438.78 461.3 438.94 462.94 439.09 464.59 439.22 466.23 439.33 467.87 439.43 469.51 439.51 471.15 439.57 472.8 439.62 474.44 439.66 476.08 439.68 477.72 439.69 479.36 439.69 481.01 439.67 482.65 439.64 484.29 439.59 485.93 439.54 487.57 439.47 489.22 439.39 490.86 439.3 492.5 439.21 494.14 439.1 495.78 438.98 497.43 438.85 499.07 438.71 500.71 438.56 502.35 438.4 503.99 438.23 505.64 438.05 507.28 437.85 508.92 437.65 510.56 437.44 512.2 437.22 513.85 436.99 515.49 436.74 517.13 436.49 518.77 436.23 520.41 435.95 522.06 435.67 523.7 435.38 525.34 435.07 526.98 434.76 528.62 434.43 530.27 434.09 531.91 433.75 533.55 433.39 535.19 433.02 536.83 432.64 538.48 432.25 540.12 431.85 541.76 431.44 543.4 431.02 545.04 430.58 546.69 430.14 548.33 429.69 549.97 429.22 551.61 428.75 553.25 428.26 554.9 427.76 556.54 427.25 558.18 426.74 559.82 426.21 561.46 425.66 563.11 425.11 564.75 424.55 566.39 423.98 568.03 423.39 569.67 422.8 571.32 422.19 572.96 421.57 574.6 420.94 576.24 420.3 577.88 419.65 579.53 418.99 581.17 418.32 582.81 417.64 584.45 416.95 586.09 416.26 587.74 415.55 589.38 414.84 591.02 414.13 592.66 413.4 594.3 412.67 595.95 411.94 597.59 411.2 599.23 410.46 600.87 409.71 602.51 408.97 604.16 408.21 605.8 407.46 607.44 406.71 609.08 405.95 610.72 405.2 612.37 404.44 614.01 403.68 615.65 402.93 617.29 402.18 618.93 401.43 620.58 400.68 622.22 399.94 623.86 399.19 625.5 398.46 627.14 397.73 628.79 397 630.43 396.28 632.07 395.56 633.71 394.85 635.35 394.15 637 393.46 638.64 392.77 640.28 392.1 641.92 391.43 643.56 390.77 645.21 390.13 646.85 389.49 648.49 388.86 650.13 388.25 651.77 387.65 653.42 387.06 655.06 386.49 656.7 385.92 658.34 385.38 659.98 384.84 661.63 384.32 663.27 383.81 664.91 383.31 666.55 382.82 668.19 382.34 669.84 381.87 671.48 381.4 673.12 380.94 674.76 380.48 676.4 380.03 678.05 379.58 679.69 379.13 681.33 378.68 682.97 378.23 684.61 377.78 686.26 377.33 687.9 376.87 689.54 376.41 691.18 375.95 692.82 375.48 694.47 375 696.11 374.52 697.75 374.02 699.39 373.52 701.03 373.01 702.68 372.48 704.32 371.94 705.96 371.39 707.6 370.82 709.24 370.24 710.89 369.64 712.53 369.02 714.17 368.38 715.81 367.73 717.45 367.05 719.1 366.35 720.74 365.63 722.38 364.89 724.02 364.12 725.66 363.33 727.31 362.51 728.95 361.66 730.59 360.79 732.23 359.88 733.87 358.95 735.52 357.98 737.16 356.98 738.8 355.95 740.44 354.89 742.08 353.79 743.73 352.66 745.37 351.49 747.01 350.3 748.65 349.07 750.29 347.82 751.94 346.53 753.58 345.22 755.22 343.88 756.86 342.51 758.5 341.12 760.15 339.7 761.79 338.25 763.43 336.78 765.07 335.29 766.71 333.77 768.36 332.23 770 330.67 771.64 329.08 773.28 327.48 774.92 325.86 776.57 324.21 778.21 322.55 779.85 320.88 781.49 319.18 783.13 317.47 784.78 315.74 786.42 314 788.06 312.24 789.7 310.47 791.34 308.69 792.99 306.89 794.63 305.09 796.27 303.27 797.91 301.44 799.55 299.6 801.2 297.75 802.84 295.9 804.48 294.04 806.12 292.17 807.76 290.29 809.41 288.41 811.05 286.53 812.69 284.64 814.33 282.74 815.97 280.85 817.62 278.95 819.26 277.05 820.9 275.15" fill="none" stroke="#000080" stroke-width="1.6" stroke-dasharray="8.1 5.8"/>
<path d="M164.1 79.82 165.74 83.2 167.38 86.59 169.03 89.97 170.67 93.35 172.31 96.73 173.95 100.11 175.59 103.49 177.24 106.87 178.88 110.24 180.52 113.62 182.16 116.99 183.8 120.36 185.45 123.72 187.09 127.08 188.73 130.44 190.37 133.8 192.01 137.15 193.66 140.5 195.3 143.84 196.94 147.18 198.58 150.51 200.22 153.84 201.87 157.17 203.51 160.49 205.15 163.8 206.79 167.11 208.43 170.41 210.08 173.7 211.72 176.99 213.36 180.27 215 183.55 216.64 186.82 218.29 190.08 219.93 193.33 221.57 196.57 223.21 199.81 224.85 203.04 226.5 206.26 228.14 209.47 229.78 212.67 231.42 215.86 233.06 219.04 234.71 222.21 236.35 225.38 237.99 228.53 239.63 231.67 241.27 234.8 242.92 237.92 244.56 241.03 246.2 244.13 247.84 247.21 249.48 250.28 251.13 253.34 252.77 256.39 254.41 259.43 256.05 262.45 257.69 265.46 259.34 268.46 260.98 271.45 262.62 274.42 264.26 277.37 265.9 280.32 267.55 283.25 269.19 286.16 270.83 289.06 272.47 291.94 274.11 294.81 275.76 297.67 277.4 300.51 279.04 303.33 280.68 306.14 282.32 308.93 283.97 311.71 285.61 314.47 287.25 317.21 288.89 319.93 290.53 322.64 292.18 325.33 293.82 328.01 295.46 330.66 297.1 333.3 298.74 335.92 300.39 338.52 302.03 341.11 303.67 343.67 305.31 346.22 306.95 348.74 308.6 351.25 310.24 353.74 311.88 356.21 313.52 358.65 315.16 361.08 316.81 363.49 318.45 365.87 320.09 368.24 321.73 370.58 323.37 372.91 325.02 375.21 326.66 377.49 328.3 379.75 329.94 381.99 331.58 384.2 333.23 386.39 334.87 388.56 336.51 390.71 338.15 392.83 339.79 394.93 341.44 397.01 343.08 399.07 344.72 401.1 346.36 403.1 348 405.09 349.65 407.05 351.29 408.98 352.93 410.89 354.57 412.78 356.21 414.64 357.86 416.47 359.5 418.29 361.14 420.07 362.78 421.83 364.42 423.57 366.07 425.28 367.71 426.96 369.35 428.62 370.99 430.25 372.63 431.86 374.28 433.44 375.92 434.99 377.56 436.52 379.2 438.01 380.84 439.49 382.49 440.93 384.13 442.35 385.77 443.73 387.41 445.1 389.05 446.43 390.7 447.73 392.34 449.01 393.98 450.26 395.62 451.48 397.26 452.67 398.91 453.83 400.55 454.96 402.19 456.07 403.83 457.14 405.47 458.18 407.12 459.2 408.76 460.18 410.4 461.14 412.04 462.06 413.68 462.95 415.33 463.82 416.97 464.65 418.61 465.46 420.25 466.24 421.89 466.99 423.54 467.71 425.18 468.41 426.82 469.08 428.46 469.72 430.1 470.33 431.75 470.92 433.39 471.49 435.03 472.03 436.67 472.54 438.31 473.03 439.96 473.5 441.6 473.94 443.24 474.36 444.88 474.76 446.52 475.14 448.17 475.49 449.81 475.82 451.45 476.13 453.09 476.42 454.73 476.69 456.38 476.94 458.02 477.17 459.66 477.38 461.3 477.57 462.94 477.74 464.59 477.89 466.23 478.03 467.87 478.15 469.51 478.25 471.15 478.34 472.8 478.41 474.44 478.46 476.08 478.5 477.72 478.52 479.36 478.53 481.01 478.52 482.65 478.5 484.29 478.46 485.93 478.41 487.57 478.35 489.22 478.28 490.86 478.2 492.5 478.1 494.14 477.99 495.78 477.87 497.43 477.74 499.07 477.59 500.71 477.44 502.35 477.27 503.99 477.1 505.64 476.91 507.28 476.71 508.92 476.49 510.56 476.27 512.2 476.03 513.85 475.79 515.49 475.53 517.13 475.26 518.77 474.97 520.41 474.68 522.06 474.37 523.7 474.05 525.34 473.72 526.98 473.38 528.62 473.03 530.27 472.66 531.91 472.28 533.55 471.89 535.19 471.49 536.83 471.07 538.48 470.64 540.12 470.21 541.76 469.75 543.4 469.29 545.04 468.81 546.69 468.33 548.33 467.82 549.97 467.31 551.61 466.79 553.25 466.25 554.9 465.7 556.54 465.13 558.18 464.56 559.82 463.97 561.46 463.37 563.11 462.76 564.75 462.13 566.39 461.49 568.03 460.84 569.67 460.18 571.32 459.5 572.96 458.81 574.6 458.11 576.24 457.39 577.88 456.67 579.53 455.93 581.17 455.18 582.81 454.42 584.45 453.64 586.09 452.86 587.74 452.07 589.38 451.27 591.02 450.47 592.66 449.65 594.3 448.83 595.95 448 597.59 447.17 599.23 446.33 600.87 445.48 602.51 444.63 604.16 443.78 605.8 442.92 607.44 442.07 609.08 441.2 610.72 440.34 612.37 439.47 614.01 438.61 615.65 437.74 617.29 436.88 618.93 436.01 620.58 435.15 622.22 434.29 623.86 433.43 625.5 432.57 627.14 431.72 628.79 430.87 630.43 430.02 632.07 429.18 633.71 428.35 635.35 427.52 637 426.7 638.64 425.89 640.28 425.08 641.92 424.28 643.56 423.49 645.21 422.71 646.85 421.94 648.49 421.18 650.13 420.43 651.77 419.69 653.42 418.96 655.06 418.25 656.7 417.55 658.34 416.86 659.98 416.18 661.63 415.52 663.27 414.86 664.91 414.21 666.55 413.58 668.19 412.95 669.84 412.32 671.48 411.7 673.12 411.08 674.76 410.47 676.4 409.86 678.05 409.25 679.69 408.63 681.33 408.02 682.97 407.4 684.61 406.78 686.26 406.16 687.9 405.52 689.54 404.89 691.18 404.24 692.82 403.58 694.47 402.92 696.11 402.24 697.75 401.55 699.39 400.85 701.03 400.13 702.68 399.4 704.32 398.65 705.96 397.88 707.6 397.09 709.24 396.29 710.89 395.46 712.53 394.61 714.17 393.74 715.81 392.84 717.45 391.92 719.1 390.97 720.74 389.99 722.38 388.99 724.02 387.96 725.66 386.89 727.31 385.8 728.95 384.67 730.59 383.5 732.23 382.31 733.87 381.07 735.52 379.8 737.16 378.49 738.8 377.14 740.44 375.76 742.08 374.33 743.73 372.86 745.37 371.36 747.01 369.82 748.65 368.24 750.29 366.63 751.94 364.98 753.58 363.3 755.22 361.58 756.86 359.84 758.5 358.06 760.15 356.25 761.79 354.41 763.43 352.54 765.07 350.65 766.71 348.72 768.36 346.77 770 344.8 771.64 342.8 773.28 340.77 774.92 338.72 776.57 336.65 778.21 334.56 779.85 332.44 781.49 330.31 783.13 328.16 784.78 325.99 786.42 323.8 788.06 321.59 789.7 319.37 791.34 317.13 792.99 314.88 794.63 312.61 796.27 310.33 797.91 308.04 799.55 305.74 801.2 303.43 802.84 301.1 804.48 298.77 806.12 296.43 807.76 294.09 809.41 291.73 811.05 289.38 812.69 287.01 814.33 284.64 815.97 282.27 817.62 279.9 819.26 277.53 820.9 275.15" fill="none" stroke="#8000FF" stroke-width="1.6" stroke-dasharray="8.1 5.8"/>
<path d="M164.1 79.82 165.74 83.68 167.38 87.54 169.03 91.39 170.67 95.25 172.31 99.1 173.95 102.96 175.59 106.81 177.24 110.66 178.88 114.5 180.52 118.34 182.16 122.18 183.8 126.02 185.45 129.85 187.09 133.67 188.73 137.5 190.37 141.31 192.01 145.12 193.66 148.92 195.3 152.72 196.94 156.51 198.58 160.3 200.22 164.07 201.87 167.84 203.51 171.6 205.15 175.35 206.79 179.09 208.43 182.83 210.08 186.55 211.72 190.26 213.36 193.97 215 197.66 216.64 201.34 218.29 205.01 219.93 208.67 221.57 212.32 223.21 215.95 224.85 219.57 226.5 223.18 228.14 226.77 229.78 230.35 231.42 233.92 233.06 237.47 234.71 241 236.35 244.52 237.99 248.03 239.63 251.52 241.27 254.99 242.92 258.45 244.56 261.89 246.2 265.31 247.84 268.71 249.48 272.1 251.13 275.46 252.77 278.81 254.41 282.14 256.05 285.46 257.69 288.75 259.34 292.03 260.98 295.28 262.62 298.52 264.26 301.74 265.9 304.94 267.55 308.12 269.19 311.28 270.83 314.43 272.47 317.55 274.11 320.65 275.76 323.74 277.4 326.8 279.04 329.85 280.68 332.87 282.32 335.87 283.97 338.86 285.61 341.82 287.25 344.77 288.89 347.69 290.53 350.59 292.18 353.47 293.82 356.33 295.46 359.17 297.1 361.99 298.74 364.79 300.39 367.57 302.03 370.32 303.67 373.05 305.31 375.77 306.95 378.46 308.6 381.13 310.24 383.77 311.88 386.4 313.52 389 315.16 391.58 316.81 394.14 318.45 396.68 320.09 399.19 321.73 401.68 323.37 404.15 325.02 406.59 326.66 409.02 328.3 411.41 329.94 413.79 331.58 416.14 333.23 418.47 334.87 420.78 336.51 423.06 338.15 425.32 339.79 427.55 341.44 429.76 343.08 431.94 344.72 434.1 346.36 436.24 348 438.35 349.65 440.43 351.29 442.49 352.93 444.53 354.57 446.54 356.21 448.52 357.86 450.47 359.5 452.4 361.14 454.31 362.78 456.18 364.42 458.03 366.07 459.85 367.71 461.65 369.35 463.42 370.99 465.16 372.63 466.87 374.28 468.56 375.92 470.21 377.56 471.84 379.2 473.44 380.84 475.02 382.49 476.56 384.13 478.07 385.77 479.56 387.41 481.01 389.05 482.44 390.7 483.84 392.34 485.2 393.98 486.54 395.62 487.85 397.26 489.13 398.91 490.37 400.55 491.59 402.19 492.77 403.83 493.93 405.47 495.05 407.12 496.14 408.76 497.2 410.4 498.23 412.04 499.22 413.68 500.19 415.33 501.12 416.97 502.03 418.61 502.9 420.25 503.74 421.89 504.55 423.54 505.34 425.18 506.09 426.82 506.82 428.46 507.52 430.1 508.19 431.75 508.83 433.39 509.45 435.03 510.04 436.67 510.6 438.31 511.14 439.96 511.66 441.6 512.14 443.24 512.61 444.88 513.05 446.52 513.46 448.17 513.85 449.81 514.22 451.45 514.57 453.09 514.89 454.73 515.2 456.38 515.48 458.02 515.74 459.66 515.98 461.3 516.19 462.94 516.39 464.59 516.57 466.23 516.73 467.87 516.87 469.51 516.99 471.15 517.1 472.8 517.19 474.44 517.26 476.08 517.31 477.72 517.34 479.36 517.36 481.01 517.37 482.65 517.36 484.29 517.33 485.93 517.29 487.57 517.24 489.22 517.17 490.86 517.09 492.5 516.99 494.14 516.88 495.78 516.76 497.43 516.63 499.07 516.48 500.71 516.32 502.35 516.15 503.99 515.97 505.64 515.77 507.28 515.56 508.92 515.33 510.56 515.1 512.2 514.85 513.85 514.58 515.49 514.31 517.13 514.02 518.77 513.72 520.41 513.4 522.06 513.07 523.7 512.73 525.34 512.37 526.98 512 528.62 511.62 530.27 511.22 531.91 510.81 533.55 510.39 535.19 509.95 536.83 509.5 538.48 509.04 540.12 508.56 541.76 508.07 543.4 507.56 545.04 507.04 546.69 506.51 548.33 505.96 549.97 505.4 551.61 504.83 553.25 504.24 554.9 503.63 556.54 503.01 558.18 502.38 559.82 501.74 561.46 501.08 563.11 500.4 564.75 499.71 566.39 499.01 568.03 498.29 569.67 497.56 571.32 496.81 572.96 496.05 574.6 495.28 576.24 494.49 577.88 493.68 579.53 492.86 581.17 492.03 582.81 491.19 584.45 490.34 586.09 489.47 587.74 488.59 589.38 487.71 591.02 486.81 592.66 485.9 594.3 484.99 595.95 484.06 597.59 483.13 599.23 482.2 600.87 481.25 602.51 480.3 604.16 479.35 605.8 478.39 607.44 477.42 609.08 476.45 610.72 475.48 612.37 474.51 614.01 473.53 615.65 472.56 617.29 471.58 618.93 470.6 620.58 469.62 622.22 468.64 623.86 467.66 625.5 466.68 627.14 465.71 628.79 464.74 630.43 463.77 632.07 462.81 633.71 461.85 635.35 460.89 637 459.94 638.64 459 640.28 458.06 641.92 457.13 643.56 456.21 645.21 455.3 646.85 454.39 648.49 453.49 650.13 452.61 651.77 451.73 653.42 450.86 655.06 450.01 656.7 449.17 658.34 448.34 659.98 447.52 661.63 446.71 663.27 445.91 664.91 445.12 666.55 444.33 668.19 443.55 669.84 442.77 671.48 442 673.12 441.23 674.76 440.46 676.4 439.69 678.05 438.92 679.69 438.14 681.33 437.36 682.97 436.57 684.61 435.78 686.26 434.98 687.9 434.18 689.54 433.36 691.18 432.53 692.82 431.69 694.47 430.83 696.11 429.96 697.75 429.08 699.39 428.18 701.03 427.25 702.68 426.31 704.32 425.35 705.96 424.37 707.6 423.37 709.24 422.34 710.89 421.28 712.53 420.2 714.17 419.09 715.81 417.95 717.45 416.79 719.1 415.59 720.74 414.36 722.38 413.09 724.02 411.79 725.66 410.46 727.31 409.08 728.95 407.67 730.59 406.22 732.23 404.73 733.87 403.2 735.52 401.62 737.16 400 738.8 398.34 740.44 396.63 742.08 394.87 743.73 393.07 745.37 391.22 747.01 389.33 748.65 387.4 750.29 385.43 751.94 383.42 753.58 381.37 755.22 379.28 756.86 377.16 758.5 375 760.15 372.8 761.79 370.57 763.43 368.3 765.07 366 766.71 363.68 768.36 361.32 770 358.93 771.64 356.51 773.28 354.06 774.92 351.59 776.57 349.09 778.21 346.56 779.85 344.01 781.49 341.44 783.13 338.85 784.78 336.23 786.42 333.59 788.06 330.94 789.7 328.26 791.34 325.57 792.99 322.86 794.63 320.14 796.27 317.4 797.91 314.65 799.55 311.88 801.2 309.1 802.84 306.31 804.48 303.51 806.12 300.7 807.76 297.88 809.41 295.06 811.05 292.23 812.69 289.39 814.33 286.55 815.97 283.7 817.62 280.85 819.26 278 820.9 275.15" fill="none" stroke="#800080" stroke-width="1.6" stroke-dasharray="8.1 5.8"/>
<rect x="160.6" y="76.32" width="7" height="7" fill="#000000"/>
<rect x="242.7" y="113.53" width="7" height="7" fill="#000000"/>
<rect x="324.8" y="186.26" width="7" height="7" fill="#000000"/>
<rect x="406.9" y="235.09" width="7" height="7" fill="#000000"/>
<rect x="489" y="241.24" width="7" height="7" fill="#000000"/>
<rect x="571.1" y="231.61" width="7" height="7" fill="#000000"/>
<rect x="653.2" y="224.32" width="7" height="7" fill="#000000"/>
<rect x="735.3" y="246.48" width="7" height="7" fill="#000000"/>
<rect x="817.4" y="271.65" width="7" height="7" fill="#000000"/>
<circle cx="164.1" cy="79.82" r="4" fill="#FF0000"/>
<circle cx="246.2" cy="138.21" r="4" fill="#FF0000"/>
<circle cx="328.3" cy="221.42" r="4" fill="#FF0000"/>
<circle cx="410.4" cy="275.68" r="4" fill="#FF0000"/>
<circle cx="492.5" cy="283.64" r="4" fill="#FF0000"/>
<circle cx="574.6" cy="272.27" r="4" fill="#FF0000"/>
<circle cx="656.7" cy="259.44" r="4" fill="#FF0000"/>
<circle cx="738.8" cy="271.18" r="4" fill="#FF0000"/>
<circle cx="820.9" cy="275.15" r="4" fill="#FF0000"/>
<path d="M164.1 73.95L168.8 82.75L159.4 82.75Z" fill="#0000FF"/>
<path d="M246.2 153.53L250.9 162.33L241.5 162.33Z" fill="#0000FF"/>
<path d="M328.3 247.22L333 256.02L323.6 256.02Z" fill="#0000FF"/>
<path d="M410.4 306.91L415.1 315.71L405.7 315.71Z" fill="#0000FF"/>
<path d="M492.5 316.66L497.2 325.46L487.8 325.46Z" fill="#0000FF"/>
<path d="M574.6 303.57L579.3 312.37L569.9 312.37Z" fill="#0000FF"/>
<path d="M656.7 285.19L661.4 293.99L652 293.99Z" fill="#0000FF"/>
<path d="M738.8 286.5L743.5 295.3L734.1 295.3Z" fill="#0000FF"/>
<path d="M820.9 269.28L825.6 278.08L816.2 278.08Z" fill="#0000FF"/>
<path d="M164.1 90.62L173.5 74.42L154.7 74.42Z" fill="#FF00FF"/>
<path d="M246.2 191.38L255.6 175.18L236.8 175.18Z" fill="#FF00FF"/>
<path d="M328.3 295.55L337.7 279.35L318.9 279.35Z" fill="#FF00FF"/>
<path d="M410.4 360.66L419.8 344.46L401 344.46Z" fill="#FF00FF"/>
<path d="M492.5 372.22L501.9 356.02L483.1 356.02Z" fill="#FF00FF"/>
<path d="M574.6 357.41L584 341.21L565.2 341.21Z" fill="#FF00FF"/>
<path d="M656.7 333.48L666.1 317.28L647.3 317.28Z" fill="#FF00FF"/>
<path d="M738.8 324.36L748.2 308.16L729.4 308.16Z" fill="#FF00FF"/>
<path d="M820.9 285.95L830.3 269.75L811.5 269.75Z" fill="#FF00FF"/>
<path d="M164.1 74.72L169.2 79.82L164.1 84.92L159 79.82Z" fill="#008000"/>
<path d="M246.2 196.66L251.3 201.76L246.2 206.86L241.1 201.76Z" fill="#008000"/>
<path d="M328.3 311.32L333.4 316.42L328.3 321.52L323.2 316.42Z" fill="#008000"/>
<path d="M410.4 381.85L415.5 386.95L410.4 392.05L405.3 386.95Z" fill="#008000"/>
<path d="M492.5 395.21L497.6 400.31L492.5 405.41L487.4 400.31Z" fill="#008000"/>
<path d="M574.6 378.68L579.7 383.78L574.6 388.88L569.5 383.78Z" fill="#008000"/>
<path d="M656.7 349.2L661.8 354.3L656.7 359.4L651.6 354.3Z" fill="#008000"/>
<path d="M738.8 329.66L743.9 334.76L738.8 339.86L733.7 334.76Z" fill="#008000"/>
<path d="M820.9 270.05L826 275.15L820.9 280.25L815.8 275.15Z" fill="#008000"/>
<path d="M158.5 79.82L166.9 75.52L166.9 84.12Z" fill="#000080"/>
<path d="M240.6 222.94L249 218.64L249 227.24Z" fill="#000080"/>
<path d="M322.7 348.08L331.1 343.78L331.1 352.38Z" fill="#000080"/>
<path d="M404.8 424.05L413.2 419.75L413.2 428.35Z" fill="#000080"/>
<path d="M486.9 439.21L495.3 434.91L495.3 443.51Z" fill="#000080"/>
<path d="M569 420.94L577.4 416.64L577.4 425.24Z" fill="#000080"/>
<path d="M651.1 385.92L659.5 381.62L659.5 390.22Z" fill="#000080"/>
<path d="M733.2 355.95L741.6 351.65L741.6 360.25Z" fill="#000080"/>
<path d="M815.3 275.15L823.7 270.85L823.7 279.45Z" fill="#000080"/>
<path d="M169.83 79.82L161.23 75.22L161.23 84.42Z" fill="#8000FF"/>
<path d="M251.93 244.13L243.33 239.53L243.33 248.73Z" fill="#8000FF"/>
<path d="M334.03 379.75L325.43 375.15L325.43 384.35Z" fill="#8000FF"/>
<path d="M416.13 461.14L407.53 456.54L407.53 465.74Z" fill="#8000FF"/>
<path d="M498.23 478.1L489.63 473.5L489.63 482.7Z" fill="#8000FF"/>
<path d="M580.33 458.11L571.73 453.51L571.73 462.71Z" fill="#8000FF"/>
<path d="M662.43 417.55L653.83 412.95L653.83 422.15Z" fill="#8000FF"/>
<path d="M744.53 377.14L735.93 372.54L735.93 381.74Z" fill="#8000FF"/>
<path d="M826.63 275.15L818.03 270.55L818.03 279.75Z" fill="#8000FF"/>
<path d="M164.1 75.42L168.1 77.62L168.1 82.02L164.1 84.22L160.1 82.02L160.1 77.62Z" fill="#800080"/>
<path d="M246.2 260.91L250.2 263.11L250.2 267.51L246.2 269.71L242.2 267.51L242.2 263.11Z" fill="#800080"/>
<path d="M328.3 407.01L332.3 409.21L332.3 413.61L328.3 415.81L324.3 413.61L324.3 409.21Z" fill="#800080"/>
<path d="M410.4 493.83L414.4 496.03L414.4 500.43L410.4 502.63L406.4 500.43L406.4 496.03Z" fill="#800080"/>
<path d="M492.5 512.59L496.5 514.79L496.5 519.19L492.5 521.39L488.5 519.19L488.5 514.79Z" fill="#800080"/>
<path d="M574.6 490.88L578.6 493.08L578.6 497.48L574.6 499.68L570.6 497.48L570.6 493.08Z" fill="#800080"/>
<path d="M656.7 444.77L660.7 446.97L660.7 451.37L656.7 453.57L652.7 451.37L652.7 446.97Z" fill="#800080"/>
<path d="M738.8 393.94L742.8 396.14L742.8 400.54L738.8 402.74L734.8 400.54L734.8 396.14Z" fill="#800080"/>
<path d="M820.9 270.75L824.9 272.95L824.9 277.35L820.9 279.55L816.9 277.35L816.9 272.95Z" fill="#800080"/>
<rect x="98.42" y="14.71" width="788.16" height="585.99" fill="none" stroke="#000" stroke-width="2.3"/>
<line x1="164.1" y1="600.7" x2="164.1" y2="589.7" stroke="#000" stroke-width="1.8"/>
<line x1="229.78" y1="600.7" x2="229.78" y2="595.2" stroke="#000" stroke-width="1.8"/>
<line x1="295.46" y1="600.7" x2="295.46" y2="589.7" stroke="#000" stroke-width="1.8"/>
<line x1="361.14" y1="600.7" x2="361.14" y2="595.2" stroke="#000" stroke-width="1.8"/>
<line x1="426.82" y1="600.7" x2="426.82" y2="589.7" stroke="#000" stroke-width="1.8"/>
<line x1="492.5" y1="600.7" x2="492.5" y2="595.2" stroke="#000" stroke-width="1.8"/>
<line x1="558.18" y1="600.7" x2="558.18" y2="589.7" stroke="#000" stroke-width="1.8"/>
<line x1="623.86" y1="600.7" x2="623.86" y2="595.2" stroke="#000" stroke-width="1.8"/>
<line x1="689.54" y1="600.7" x2="689.54" y2="589.7" stroke="#000" stroke-width="1.8"/>
<line x1="755.22" y1="600.7" x2="755.22" y2="595.2" stroke="#000" stroke-width="1.8"/>
<line x1="820.9" y1="600.7" x2="820.9" y2="589.7" stroke="#000" stroke-width="1.8"/>
<line x1="98.42" y1="535.59" x2="109.42" y2="535.59" stroke="#000" stroke-width="1.8"/>
<line x1="98.42" y1="470.48" x2="103.92" y2="470.48" stroke="#000" stroke-width="1.8"/>
<line x1="98.42" y1="405.37" x2="109.42" y2="405.37" stroke="#000" stroke-width="1.8"/>
<line x1="98.42" y1="340.26" x2="103.92" y2="340.26" stroke="#000" stroke-width="1.8"/>
<line x1="98.42" y1="275.15" x2="109.42" y2="275.15" stroke="#000" stroke-width="1.8"/>
<line x1="98.42" y1="210.04" x2="103.92" y2="210.04" stroke="#000" stroke-width="1.8"/>
<line x1="98.42" y1="144.93" x2="109.42" y2="144.93" stroke="#000" stroke-width="1.8"/>
<line x1="98.42" y1="79.82" x2="103.92" y2="79.82" stroke="#000" stroke-width="1.8"/>
<text x="164.1" y="636.5" class="tk" text-anchor="middle">0</text>
<text x="295.46" y="636.5" class="tk" text-anchor="middle">20</text>
<text x="426.82" y="636.5" class="tk" text-anchor="middle">40</text>
<text x="558.18" y="636.5" class="tk" text-anchor="middle">60</text>
<text x="689.54" y="636.5" class="tk" text-anchor="middle">80</text>
<text x="820.9" y="636.5" class="tk" text-anchor="middle">100</text>
<text x="85.92" y="545.19" class="tk" text-anchor="end">-40</text>
<text x="85.92" y="414.97" class="tk" text-anchor="end">-20</text>
<text x="85.92" y="284.75" class="tk" text-anchor="end">0</text>
<text x="85.92" y="154.53" class="tk" text-anchor="end">20</text>
<text x="85.92" y="24.31" class="tk" text-anchor="end">40</text>
<text x="492" y="694.2" class="ti" text-anchor="middle">Atomic fraction of Nb (at%)</text>
<text transform="translate(30.8 307.5) rotate(-90)" class="ti" text-anchor="middle">&#916;<tspan font-style="italic">G</tspan> (meV/atom)</text>
<text transform="translate(3 33.9) scale(1.039 1.062)" class="pl">A</text>
<text transform="translate(648.5 217.7) scale(1 1.015)" class="lb" text-anchor="end">0 K</text>
<text transform="translate(648.5 253.5) scale(1 1.015)" class="lb" text-anchor="end">100 K</text>
<text transform="translate(588.9 299.2) scale(1 1.015)" class="lb" text-anchor="end">200 K</text>
<text transform="translate(476 346.8) scale(1 1.015)" class="lb" text-anchor="start">300 K</text>
<text transform="translate(475.5 390) scale(1 1.015)" class="lb" text-anchor="start">400 K</text>
<text transform="translate(476 426.5) scale(1 1.015)" class="lb" text-anchor="start">500 K</text>
<text transform="translate(477.5 466.3) scale(1 1.015)" class="lb" text-anchor="start">600 K</text>
<text transform="translate(474.3 506.5) scale(1 1.015)" class="lb" text-anchor="start">700 K</text>
<line x1="254.3" y1="52.4" x2="304.8" y2="52.4" stroke="#000000" stroke-width="1.6" stroke-dasharray="8.2 5.9"/>
<rect x="279.2" y="48.9" width="7" height="7" fill="#000000"/>
<text transform="translate(317.3 60.5) scale(1 1.13)" class="lg">0 K</text>
<line x1="384.1" y1="52.4" x2="434.6" y2="52.4" stroke="#FF0000" stroke-width="1.6" stroke-dasharray="8.2 5.9"/>
<circle cx="412.5" cy="52.4" r="4" fill="#FF0000"/>
<text transform="translate(447.1 60.5) scale(1 1.13)" class="lg">100 K</text>
<line x1="513.9" y1="52.4" x2="564.4" y2="52.4" stroke="#0000FF" stroke-width="1.6" stroke-dasharray="8.2 5.9"/>
<path d="M542.3 46.53L547 55.33L537.6 55.33Z" fill="#0000FF"/>
<text transform="translate(576.9 60.5) scale(1 1.13)" class="lg">200 K</text>
<line x1="643.2" y1="52.4" x2="700.7" y2="52.4" stroke="#FF00FF" stroke-width="3"/>
<path d="M672.2 63.2L681.6 47L662.8 47Z" fill="#FF00FF"/>
<text transform="translate(706.7 60.5) scale(1 1.13)" class="lg">300 K</text>
<line x1="254.3" y1="83.2" x2="304.8" y2="83.2" stroke="#008000" stroke-width="1.6" stroke-dasharray="8.2 5.9"/>
<path d="M282.7 78.1L287.8 83.2L282.7 88.3L277.6 83.2Z" fill="#008000"/>
<text transform="translate(317.3 91.3) scale(1 1.13)" class="lg">400 K</text>
<line x1="384.1" y1="83.2" x2="434.6" y2="83.2" stroke="#000080" stroke-width="1.6" stroke-dasharray="8.2 5.9"/>
<path d="M406.9 83.2L415.3 78.9L415.3 87.5Z" fill="#000080"/>
<text transform="translate(447.1 91.3) scale(1 1.13)" class="lg">500 K</text>
<line x1="513.9" y1="83.2" x2="564.4" y2="83.2" stroke="#8000FF" stroke-width="1.6" stroke-dasharray="8.2 5.9"/>
<path d="M548.03 83.2L539.43 78.6L539.43 87.8Z" fill="#8000FF"/>
<text transform="translate(576.9 91.3) scale(1 1.13)" class="lg">600 K</text>
<line x1="643.7" y1="83.2" x2="694.2" y2="83.2" stroke="#800080" stroke-width="1.6" stroke-dasharray="8.2 5.9"/>
<path d="M672.1 78.8L676.1 81L676.1 85.4L672.1 87.6L668.1 85.4L668.1 81Z" fill="#800080"/>
<text transform="translate(706.7 91.3) scale(1 1.13)" class="lg">700 K</text>
<line x1="103.68" y1="1067.4" x2="884.6" y2="1065.5" stroke="#000" stroke-width="1.7" stroke-dasharray="8.3 3.3 2 3.9"/>
<path d="M168.2 872.47 169.84 871.99 171.48 871.52 173.11 871.05 174.75 870.58 176.39 870.12 178.03 869.66 179.67 869.21 181.3 868.78 182.94 868.35 184.58 867.94 186.22 867.55 187.86 867.17 189.49 866.8 191.13 866.46 192.77 866.14 194.41 865.83 196.05 865.55 197.68 865.3 199.32 865.07 200.96 864.87 202.6 864.7 204.24 864.56 205.87 864.45 207.51 864.38 209.15 864.34 210.79 864.34 212.43 864.37 214.06 864.45 215.7 864.56 217.34 864.72 218.98 864.92 220.62 865.17 222.25 865.46 223.89 865.8 225.53 866.19 227.17 866.63 228.81 867.12 230.44 867.67 232.08 868.28 233.72 868.94 235.36 869.65 237 870.43 238.63 871.27 240.27 872.17 241.91 873.14 243.55 874.17 245.19 875.27 246.82 876.44 248.46 877.67 250.1 878.98 251.74 880.36 253.38 881.81 255.01 883.33 256.65 884.91 258.29 886.55 259.93 888.25 261.57 890.01 263.2 891.81 264.84 893.67 266.48 895.57 268.12 897.52 269.76 899.5 271.39 901.52 273.03 903.58 274.67 905.66 276.31 907.78 277.95 909.92 279.58 912.08 281.22 914.26 282.86 916.45 284.5 918.66 286.14 920.88 287.77 923.1 289.41 925.33 291.05 927.57 292.69 929.79 294.33 932.02 295.96 934.23 297.6 936.44 299.24 938.63 300.88 940.8 302.52 942.96 304.15 945.09 305.79 947.19 307.43 949.27 309.07 951.31 310.71 953.32 312.34 955.29 313.98 957.22 315.62 959.11 317.26 960.94 318.9 962.73 320.53 964.47 322.17 966.15 323.81 967.77 325.45 969.33 327.09 970.82 328.72 972.25 330.36 973.61 332 974.89 333.64 976.09 335.28 977.22 336.91 978.28 338.55 979.27 340.19 980.19 341.83 981.04 343.47 981.83 345.1 982.56 346.74 983.23 348.38 983.84 350.02 984.39 351.66 984.9 353.29 985.35 354.93 985.75 356.57 986.1 358.21 986.41 359.85 986.68 361.48 986.91 363.12 987.1 364.76 987.25 366.4 987.37 368.04 987.46 369.67 987.52 371.31 987.55 372.95 987.55 374.59 987.53 376.23 987.49 377.86 987.44 379.5 987.36 381.14 987.27 382.78 987.17 384.42 987.06 386.05 986.94 387.69 986.82 389.33 986.69 390.97 986.56 392.61 986.43 394.24 986.3 395.88 986.18 397.52 986.06 399.16 985.95 400.8 985.86 402.43 985.78 404.07 985.71 405.71 985.66 407.35 985.63 408.99 985.63 410.62 985.64 412.26 985.69 413.9 985.76 415.54 985.86 417.18 986 418.81 986.16 420.45 986.35 422.09 986.56 423.73 986.81 425.37 987.07 427 987.36 428.64 987.68 430.28 988.02 431.92 988.38 433.56 988.76 435.19 989.15 436.83 989.57 438.47 990.01 440.11 990.46 441.75 990.93 443.38 991.41 445.02 991.91 446.66 992.43 448.3 992.95 449.94 993.49 451.57 994.03 453.21 994.59 454.85 995.15 456.49 995.72 458.13 996.3 459.76 996.89 461.4 997.48 463.04 998.08 464.68 998.67 466.32 999.27 467.95 999.88 469.59 1000.48 471.23 1001.08 472.87 1001.68 474.51 1002.28 476.14 1002.88 477.78 1003.47 479.42 1004.06 481.06 1004.64 482.7 1005.21 484.33 1005.78 485.97 1006.34 487.61 1006.89 489.25 1007.42 490.89 1007.95 492.52 1008.47 494.16 1008.97 495.8 1009.45 497.44 1009.93 499.08 1010.39 500.71 1010.83 502.35 1011.25 503.99 1011.66 505.63 1012.06 507.27 1012.44 508.9 1012.8 510.54 1013.14 512.18 1013.46 513.82 1013.77 515.46 1014.06 517.09 1014.33 518.73 1014.58 520.37 1014.82 522.01 1015.03 523.65 1015.22 525.28 1015.4 526.92 1015.55 528.56 1015.69 530.2 1015.8 531.84 1015.89 533.47 1015.96 535.11 1016.01 536.75 1016.04 538.39 1016.04 540.03 1016.02 541.66 1015.98 543.3 1015.92 544.94 1015.83 546.58 1015.72 548.22 1015.58 549.85 1015.42 551.49 1015.24 553.13 1015.03 554.77 1014.79 556.41 1014.53 558.04 1014.25 559.68 1013.93 561.32 1013.6 562.96 1013.23 564.6 1012.84 566.23 1012.42 567.87 1011.97 569.51 1011.5 571.15 1011 572.79 1010.46 574.42 1009.9 576.06 1009.31 577.7 1008.7 579.34 1008.05 580.98 1007.37 582.61 1006.67 584.25 1005.95 585.89 1005.2 587.53 1004.43 589.17 1003.65 590.8 1002.85 592.44 1002.03 594.08 1001.2 595.72 1000.36 597.36 999.52 598.99 998.66 600.63 997.8 602.27 996.94 603.91 996.08 605.55 995.22 607.18 994.36 608.82 993.5 610.46 992.66 612.1 991.82 613.74 990.99 615.37 990.17 617.01 989.37 618.65 988.59 620.29 987.82 621.93 987.07 623.56 986.35 625.2 985.65 626.84 984.97 628.48 984.32 630.12 983.7 631.75 983.12 633.39 982.56 635.03 982.04 636.67 981.56 638.31 981.12 639.94 980.72 641.58 980.36 643.22 980.05 644.86 979.78 646.5 979.56 648.13 979.4 649.77 979.28 651.41 979.22 653.05 979.22 654.69 979.27 656.32 979.39 657.96 979.56 659.6 979.8 661.24 980.11 662.88 980.48 664.51 980.91 666.15 981.4 667.79 981.95 669.43 982.56 671.07 983.22 672.7 983.93 674.34 984.69 675.98 985.51 677.62 986.36 679.26 987.27 680.89 988.21 682.53 989.2 684.17 990.22 685.81 991.28 687.45 992.38 689.08 993.51 690.72 994.67 692.36 995.86 694 997.08 695.64 998.32 697.27 999.59 698.91 1000.88 700.55 1002.19 702.19 1003.51 703.83 1004.85 705.46 1006.21 707.1 1007.57 708.74 1008.95 710.38 1010.33 712.02 1011.72 713.65 1013.12 715.29 1014.51 716.93 1015.91 718.57 1017.31 720.21 1018.7 721.84 1020.08 723.48 1021.46 725.12 1022.83 726.76 1024.19 728.4 1025.53 730.03 1026.86 731.67 1028.18 733.31 1029.47 734.95 1030.74 736.59 1031.99 738.22 1033.22 739.86 1034.41 741.5 1035.58 743.14 1036.72 744.78 1037.83 746.41 1038.91 748.05 1039.96 749.69 1040.99 751.33 1041.98 752.97 1042.95 754.6 1043.89 756.24 1044.81 757.88 1045.7 759.52 1046.57 761.16 1047.41 762.79 1048.23 764.43 1049.03 766.07 1049.8 767.71 1050.55 769.35 1051.29 770.98 1052 772.62 1052.69 774.26 1053.37 775.9 1054.02 777.54 1054.66 779.17 1055.28 780.81 1055.89 782.45 1056.47 784.09 1057.05 785.73 1057.6 787.36 1058.15 789 1058.68 790.64 1059.2 792.28 1059.7 793.92 1060.2 795.55 1060.68 797.19 1061.15 798.83 1061.62 800.47 1062.07 802.11 1062.51 803.74 1062.95 805.38 1063.38 807.02 1063.8 808.66 1064.22 810.3 1064.63 811.93 1065.04 813.57 1065.44 815.21 1065.84 816.85 1066.24 818.49 1066.63 820.12 1067.02 821.76 1067.41 823.4 1067.8" fill="none" stroke="#000000" stroke-width="1.6" stroke-dasharray="8.1 5.8"/>
<path d="M168.2 872.47 169.84 872.47 171.48 872.47 173.11 872.48 174.75 872.49 176.39 872.5 178.03 872.53 179.67 872.55 181.3 872.59 182.94 872.64 184.58 872.7 186.22 872.78 187.86 872.87 189.49 872.97 191.13 873.1 192.77 873.24 194.41 873.4 196.05 873.58 197.68 873.79 199.32 874.02 200.96 874.27 202.6 874.55 204.24 874.86 205.87 875.2 207.51 875.57 209.15 875.97 210.79 876.4 212.43 876.87 214.06 877.37 215.7 877.91 217.34 878.5 218.98 879.12 220.62 879.78 222.25 880.48 223.89 881.23 225.53 882.02 227.17 882.86 228.81 883.75 230.44 884.69 232.08 885.67 233.72 886.71 235.36 887.8 237 888.95 238.63 890.15 240.27 891.41 241.91 892.73 243.55 894.11 245.19 895.55 246.82 897.05 248.46 898.62 250.1 900.25 251.74 901.95 253.38 903.71 255.01 905.53 256.65 907.41 258.29 909.34 259.93 911.33 261.57 913.36 263.2 915.45 264.84 917.57 266.48 919.74 268.12 921.94 269.76 924.18 271.39 926.45 273.03 928.75 274.67 931.07 276.31 933.42 277.95 935.79 279.58 938.18 281.22 940.58 282.86 942.99 284.5 945.41 286.14 947.84 287.77 950.27 289.41 952.7 291.05 955.13 292.69 957.55 294.33 959.97 295.96 962.37 297.6 964.76 299.24 967.13 300.88 969.48 302.52 971.81 304.15 974.11 305.79 976.39 307.43 978.63 309.07 980.84 310.71 983.01 312.34 985.14 313.98 987.22 315.62 989.26 317.26 991.26 318.9 993.2 320.53 995.08 322.17 996.91 323.81 998.68 325.45 1000.38 327.09 1002.02 328.72 1003.59 330.36 1005.09 332 1006.51 333.64 1007.86 335.28 1009.13 336.91 1010.32 338.55 1011.45 340.19 1012.5 341.83 1013.49 343.47 1014.42 345.1 1015.28 346.74 1016.08 348.38 1016.82 350.02 1017.5 351.66 1018.14 353.29 1018.72 354.93 1019.24 356.57 1019.73 358.21 1020.16 359.85 1020.55 361.48 1020.9 363.12 1021.21 364.76 1021.49 366.4 1021.73 368.04 1021.93 369.67 1022.11 371.31 1022.25 372.95 1022.37 374.59 1022.47 376.23 1022.54 377.86 1022.6 379.5 1022.63 381.14 1022.65 382.78 1022.66 384.42 1022.65 386.05 1022.63 387.69 1022.61 389.33 1022.58 390.97 1022.55 392.61 1022.52 394.24 1022.49 395.88 1022.46 397.52 1022.44 399.16 1022.42 400.8 1022.42 402.43 1022.42 404.07 1022.45 405.71 1022.48 407.35 1022.54 408.99 1022.61 410.62 1022.71 412.26 1022.83 413.9 1022.98 415.54 1023.16 417.18 1023.37 418.81 1023.6 420.45 1023.86 422.09 1024.14 423.73 1024.45 425.37 1024.78 427 1025.14 428.64 1025.51 430.28 1025.91 431.92 1026.33 433.56 1026.77 435.19 1027.22 436.83 1027.69 438.47 1028.18 440.11 1028.68 441.75 1029.2 443.38 1029.73 445.02 1030.27 446.66 1030.83 448.3 1031.4 449.94 1031.97 451.57 1032.56 453.21 1033.15 454.85 1033.75 456.49 1034.36 458.13 1034.97 459.76 1035.59 461.4 1036.21 463.04 1036.83 464.68 1037.46 466.32 1038.08 467.95 1038.71 469.59 1039.33 471.23 1039.96 472.87 1040.58 474.51 1041.2 476.14 1041.81 477.78 1042.41 479.42 1043.02 481.06 1043.61 482.7 1044.2 484.33 1044.77 485.97 1045.34 487.61 1045.89 489.25 1046.44 490.89 1046.97 492.52 1047.49 494.16 1047.99 495.8 1048.48 497.44 1048.95 499.08 1049.41 500.71 1049.85 502.35 1050.27 503.99 1050.67 505.63 1051.06 507.27 1051.43 508.9 1051.78 510.54 1052.11 512.18 1052.42 513.82 1052.71 515.46 1052.99 517.09 1053.24 518.73 1053.47 520.37 1053.69 522.01 1053.88 523.65 1054.05 525.28 1054.2 526.92 1054.33 528.56 1054.43 530.2 1054.52 531.84 1054.58 533.47 1054.62 535.11 1054.63 536.75 1054.63 538.39 1054.59 540.03 1054.54 541.66 1054.46 543.3 1054.35 544.94 1054.22 546.58 1054.07 548.22 1053.88 549.85 1053.68 551.49 1053.44 553.13 1053.18 554.77 1052.9 556.41 1052.58 558.04 1052.24 559.68 1051.87 561.32 1051.48 562.96 1051.05 564.6 1050.6 566.23 1050.11 567.87 1049.6 569.51 1049.06 571.15 1048.49 572.79 1047.89 574.42 1047.25 576.06 1046.59 577.7 1045.9 579.34 1045.17 580.98 1044.42 582.61 1043.63 584.25 1042.83 585.89 1042 587.53 1041.14 589.17 1040.27 590.8 1039.38 592.44 1038.47 594.08 1037.55 595.72 1036.62 597.36 1035.68 598.99 1034.72 600.63 1033.77 602.27 1032.81 603.91 1031.84 605.55 1030.88 607.18 1029.91 608.82 1028.95 610.46 1028 612.1 1027.05 613.74 1026.11 615.37 1025.18 617.01 1024.27 618.65 1023.37 620.29 1022.49 621.93 1021.62 623.56 1020.78 625.2 1019.96 626.84 1019.16 628.48 1018.39 630.12 1017.65 631.75 1016.94 633.39 1016.26 635.03 1015.62 636.67 1015.01 638.31 1014.44 639.94 1013.91 641.58 1013.42 643.22 1012.97 644.86 1012.58 646.5 1012.22 648.13 1011.92 649.77 1011.67 651.41 1011.48 653.05 1011.33 654.69 1011.25 656.32 1011.22 657.96 1011.26 659.6 1011.36 661.24 1011.52 662.88 1011.75 664.51 1012.04 666.15 1012.39 667.79 1012.79 669.43 1013.25 671.07 1013.76 672.7 1014.32 674.34 1014.93 675.98 1015.59 677.62 1016.29 679.26 1017.03 680.89 1017.82 682.53 1018.64 684.17 1019.5 685.81 1020.4 687.45 1021.32 689.08 1022.28 690.72 1023.27 692.36 1024.28 694 1025.32 695.64 1026.37 697.27 1027.45 698.91 1028.55 700.55 1029.66 702.19 1030.79 703.83 1031.93 705.46 1033.08 707.1 1034.23 708.74 1035.4 710.38 1036.56 712.02 1037.73 713.65 1038.9 715.29 1040.07 716.93 1041.23 718.57 1042.39 720.21 1043.53 721.84 1044.67 723.48 1045.79 725.12 1046.9 726.76 1048 728.4 1049.07 730.03 1050.13 731.67 1051.16 733.31 1052.17 734.95 1053.15 736.59 1054.1 738.22 1055.02 739.86 1055.91 741.5 1056.76 743.14 1057.58 744.78 1058.36 746.41 1059.11 748.05 1059.82 749.69 1060.49 751.33 1061.14 752.97 1061.75 754.6 1062.33 756.24 1062.88 757.88 1063.39 759.52 1063.88 761.16 1064.34 762.79 1064.78 764.43 1065.18 766.07 1065.56 767.71 1065.91 769.35 1066.24 770.98 1066.54 772.62 1066.82 774.26 1067.08 775.9 1067.31 777.54 1067.52 779.17 1067.72 780.81 1067.89 782.45 1068.04 784.09 1068.18 785.73 1068.29 787.36 1068.39 789 1068.48 790.64 1068.55 792.28 1068.6 793.92 1068.64 795.55 1068.67 797.19 1068.68 798.83 1068.68 800.47 1068.67 802.11 1068.65 803.74 1068.63 805.38 1068.59 807.02 1068.54 808.66 1068.49 810.3 1068.43 811.93 1068.36 813.57 1068.29 815.21 1068.22 816.85 1068.14 818.49 1068.06 820.12 1067.97 821.76 1067.89 823.4 1067.8" fill="none" stroke="#FF0000" stroke-width="1.6" stroke-dasharray="8.1 5.8"/>
<path d="M168.2 872.47 169.84 872.95 171.48 873.43 173.11 873.91 174.75 874.4 176.39 874.89 178.03 875.39 179.67 875.9 181.3 876.41 182.94 876.93 184.58 877.47 186.22 878.01 187.86 878.57 189.49 879.14 191.13 879.73 192.77 880.34 194.41 880.96 196.05 881.61 197.68 882.27 199.32 882.96 200.96 883.67 202.6 884.4 204.24 885.16 205.87 885.94 207.51 886.75 209.15 887.59 210.79 888.46 212.43 889.37 214.06 890.3 215.7 891.27 217.34 892.27 218.98 893.31 220.62 894.39 222.25 895.5 223.89 896.66 225.53 897.85 227.17 899.09 228.81 900.37 230.44 901.7 232.08 903.07 233.72 904.49 235.36 905.96 237 907.47 238.63 909.04 240.27 910.66 241.91 912.33 243.55 914.05 245.19 915.83 246.82 917.67 248.46 919.57 250.1 921.52 251.74 923.53 253.38 925.6 255.01 927.73 256.65 929.91 258.29 932.13 259.93 934.41 261.57 936.72 263.2 939.08 264.84 941.48 266.48 943.91 268.12 946.37 269.76 948.86 271.39 951.38 273.03 953.92 274.67 956.49 276.31 959.07 277.95 961.67 279.58 964.28 281.22 966.9 282.86 969.53 284.5 972.17 286.14 974.8 287.77 977.44 289.41 980.07 291.05 982.7 292.69 985.31 294.33 987.92 295.96 990.51 297.6 993.08 299.24 995.63 300.88 998.16 302.52 1000.66 304.15 1003.14 305.79 1005.58 307.43 1007.99 309.07 1010.36 310.71 1012.69 312.34 1014.98 313.98 1017.23 315.62 1019.42 317.26 1021.57 318.9 1023.66 320.53 1025.69 322.17 1027.67 323.81 1029.59 325.45 1031.44 327.09 1033.22 328.72 1034.93 330.36 1036.57 332 1038.13 333.64 1039.62 335.28 1041.03 336.91 1042.36 338.55 1043.62 340.19 1044.82 341.83 1045.94 343.47 1047 345.1 1047.99 346.74 1048.93 348.38 1049.8 350.02 1050.62 351.66 1051.38 353.29 1052.08 354.93 1052.74 356.57 1053.35 358.21 1053.91 359.85 1054.43 361.48 1054.9 363.12 1055.33 364.76 1055.73 366.4 1056.09 368.04 1056.41 369.67 1056.7 371.31 1056.96 372.95 1057.2 374.59 1057.41 376.23 1057.59 377.86 1057.76 379.5 1057.9 381.14 1058.03 382.78 1058.14 384.42 1058.24 386.05 1058.33 387.69 1058.41 389.33 1058.48 390.97 1058.55 392.61 1058.61 394.24 1058.68 395.88 1058.74 397.52 1058.81 399.16 1058.89 400.8 1058.98 402.43 1059.07 404.07 1059.18 405.71 1059.3 407.35 1059.44 408.99 1059.6 410.62 1059.78 412.26 1059.98 413.9 1060.2 415.54 1060.46 417.18 1060.74 418.81 1061.04 420.45 1061.37 422.09 1061.72 423.73 1062.1 425.37 1062.49 427 1062.91 428.64 1063.35 430.28 1063.81 431.92 1064.28 433.56 1064.78 435.19 1065.28 436.83 1065.81 438.47 1066.35 440.11 1066.9 441.75 1067.47 443.38 1068.05 445.02 1068.63 446.66 1069.23 448.3 1069.84 449.94 1070.46 451.57 1071.08 453.21 1071.71 454.85 1072.35 456.49 1072.99 458.13 1073.64 459.76 1074.29 461.4 1074.94 463.04 1075.59 464.68 1076.24 466.32 1076.89 467.95 1077.54 469.59 1078.19 471.23 1078.83 472.87 1079.47 474.51 1080.11 476.14 1080.74 477.78 1081.36 479.42 1081.98 481.06 1082.58 482.7 1083.18 484.33 1083.77 485.97 1084.34 487.61 1084.9 489.25 1085.45 490.89 1085.99 492.52 1086.51 494.16 1087.02 495.8 1087.5 497.44 1087.98 499.08 1088.43 500.71 1088.86 502.35 1089.28 503.99 1089.68 505.63 1090.06 507.27 1090.42 508.9 1090.76 510.54 1091.08 512.18 1091.38 513.82 1091.66 515.46 1091.91 517.09 1092.15 518.73 1092.36 520.37 1092.56 522.01 1092.73 523.65 1092.88 525.28 1093 526.92 1093.1 528.56 1093.18 530.2 1093.24 531.84 1093.27 533.47 1093.28 535.11 1093.26 536.75 1093.22 538.39 1093.15 540.03 1093.05 541.66 1092.93 543.3 1092.79 544.94 1092.61 546.58 1092.41 548.22 1092.19 549.85 1091.93 551.49 1091.65 553.13 1091.34 554.77 1091 556.41 1090.63 558.04 1090.24 559.68 1089.81 561.32 1089.35 562.96 1088.87 564.6 1088.35 566.23 1087.81 567.87 1087.23 569.51 1086.62 571.15 1085.98 572.79 1085.31 574.42 1084.6 576.06 1083.87 577.7 1083.1 579.34 1082.29 580.98 1081.46 582.61 1080.6 584.25 1079.71 585.89 1078.79 587.53 1077.85 589.17 1076.89 590.8 1075.91 592.44 1074.91 594.08 1073.9 595.72 1072.87 597.36 1071.83 598.99 1070.79 600.63 1069.73 602.27 1068.67 603.91 1067.6 605.55 1066.53 607.18 1065.47 608.82 1064.4 610.46 1063.34 612.1 1062.28 613.74 1061.23 615.37 1060.19 617.01 1059.17 618.65 1058.15 620.29 1057.15 621.93 1056.17 623.56 1055.21 625.2 1054.27 626.84 1053.36 628.48 1052.46 630.12 1051.6 631.75 1050.77 633.39 1049.96 635.03 1049.19 636.67 1048.45 638.31 1047.76 639.94 1047.1 641.58 1046.48 643.22 1045.9 644.86 1045.37 646.5 1044.88 648.13 1044.45 649.77 1044.06 651.41 1043.73 653.05 1043.45 654.69 1043.23 656.32 1043.06 657.96 1042.96 659.6 1042.92 661.24 1042.94 662.88 1043.02 664.51 1043.17 666.15 1043.37 667.79 1043.63 669.43 1043.94 671.07 1044.3 672.7 1044.71 674.34 1045.17 675.98 1045.67 677.62 1046.22 679.26 1046.8 680.89 1047.43 682.53 1048.09 684.17 1048.78 685.81 1049.51 687.45 1050.27 689.08 1051.05 690.72 1051.86 692.36 1052.7 694 1053.55 695.64 1054.43 697.27 1055.32 698.91 1056.22 700.55 1057.14 702.19 1058.07 703.83 1059.01 705.46 1059.95 707.1 1060.9 708.74 1061.85 710.38 1062.8 712.02 1063.74 713.65 1064.69 715.29 1065.62 716.93 1066.55 718.57 1067.47 720.21 1068.37 721.84 1069.26 723.48 1070.13 725.12 1070.98 726.76 1071.81 728.4 1072.61 730.03 1073.39 731.67 1074.14 733.31 1074.86 734.95 1075.55 736.59 1076.21 738.22 1076.82 739.86 1077.4 741.5 1077.94 743.14 1078.43 744.78 1078.89 746.41 1079.3 748.05 1079.67 749.69 1080 751.33 1080.29 752.97 1080.55 754.6 1080.76 756.24 1080.94 757.88 1081.09 759.52 1081.2 761.16 1081.28 762.79 1081.32 764.43 1081.33 766.07 1081.32 767.71 1081.27 769.35 1081.19 770.98 1081.08 772.62 1080.95 774.26 1080.79 775.9 1080.6 777.54 1080.39 779.17 1080.15 780.81 1079.89 782.45 1079.61 784.09 1079.31 785.73 1078.98 787.36 1078.64 789 1078.28 790.64 1077.9 792.28 1077.5 793.92 1077.08 795.55 1076.65 797.19 1076.21 798.83 1075.75 800.47 1075.28 802.11 1074.79 803.74 1074.3 805.38 1073.79 807.02 1073.28 808.66 1072.76 810.3 1072.23 811.93 1071.69 813.57 1071.14 815.21 1070.59 816.85 1070.04 818.49 1069.48 820.12 1068.92 821.76 1068.36 823.4 1067.8" fill="none" stroke="#0000FF" stroke-width="1.6" stroke-dasharray="8.1 5.8"/>
<path d="M168.2 872.47 169.84 873.43 171.48 874.39 173.11 875.35 174.75 876.31 176.39 877.28 178.03 878.26 179.67 879.24 181.3 880.22 182.94 881.22 184.58 882.23 186.22 883.24 187.86 884.27 189.49 885.32 191.13 886.37 192.77 887.44 194.41 888.53 196.05 889.63 197.68 890.76 199.32 891.9 200.96 893.06 202.6 894.24 204.24 895.45 205.87 896.68 207.51 897.94 209.15 899.22 210.79 900.53 212.43 901.86 214.06 903.23 215.7 904.62 217.34 906.05 218.98 907.51 220.62 909 222.25 910.52 223.89 912.09 225.53 913.69 227.17 915.32 228.81 917 230.44 918.71 232.08 920.47 233.72 922.26 235.36 924.11 237 925.99 238.63 927.92 240.27 929.9 241.91 931.92 243.55 933.99 245.19 936.12 246.82 938.29 248.46 940.51 250.1 942.79 251.74 945.12 253.38 947.5 255.01 949.93 256.65 952.41 258.29 954.92 259.93 957.48 261.57 960.08 263.2 962.71 264.84 965.38 266.48 968.07 268.12 970.79 269.76 973.54 271.39 976.31 273.03 979.1 274.67 981.9 276.31 984.72 277.95 987.55 279.58 990.39 281.22 993.23 282.86 996.08 284.5 998.92 286.14 1001.77 287.77 1004.61 289.41 1007.44 291.05 1010.26 292.69 1013.07 294.33 1015.87 295.96 1018.64 297.6 1021.4 299.24 1024.13 300.88 1026.84 302.52 1029.52 304.15 1032.16 305.79 1034.77 307.43 1037.35 309.07 1039.88 310.71 1042.38 312.34 1044.83 313.98 1047.23 315.62 1049.58 317.26 1051.88 318.9 1054.12 320.53 1056.31 322.17 1058.43 323.81 1060.49 325.45 1062.49 327.09 1064.41 328.72 1066.27 330.36 1068.05 332 1069.75 333.64 1071.38 335.28 1072.93 336.91 1074.4 338.55 1075.8 340.19 1077.13 341.83 1078.39 343.47 1079.58 345.1 1080.71 346.74 1081.78 348.38 1082.78 350.02 1083.73 351.66 1084.62 353.29 1085.45 354.93 1086.24 356.57 1086.97 358.21 1087.66 359.85 1088.3 361.48 1088.9 363.12 1089.45 364.76 1089.97 366.4 1090.44 368.04 1090.89 369.67 1091.3 371.31 1091.67 372.95 1092.02 374.59 1092.34 376.23 1092.64 377.86 1092.92 379.5 1093.17 381.14 1093.4 382.78 1093.62 384.42 1093.83 386.05 1094.02 387.69 1094.2 389.33 1094.37 390.97 1094.54 392.61 1094.7 394.24 1094.87 395.88 1095.03 397.52 1095.19 399.16 1095.36 400.8 1095.54 402.43 1095.72 404.07 1095.91 405.71 1096.12 407.35 1096.34 408.99 1096.58 410.62 1096.84 412.26 1097.12 413.9 1097.43 415.54 1097.75 417.18 1098.11 418.81 1098.48 420.45 1098.88 422.09 1099.3 423.73 1099.74 425.37 1100.21 427 1100.69 428.64 1101.19 430.28 1101.7 431.92 1102.24 433.56 1102.79 435.19 1103.35 436.83 1103.93 438.47 1104.52 440.11 1105.12 441.75 1105.74 443.38 1106.36 445.02 1106.99 446.66 1107.64 448.3 1108.29 449.94 1108.95 451.57 1109.61 453.21 1110.28 454.85 1110.95 456.49 1111.62 458.13 1112.3 459.76 1112.98 461.4 1113.66 463.04 1114.34 464.68 1115.02 466.32 1115.7 467.95 1116.37 469.59 1117.04 471.23 1117.71 472.87 1118.37 474.51 1119.02 476.14 1119.67 477.78 1120.31 479.42 1120.94 481.06 1121.55 482.7 1122.16 484.33 1122.76 485.97 1123.34 487.61 1123.91 489.25 1124.47 490.89 1125.01 492.52 1125.53 494.16 1126.04 495.8 1126.53 497.44 1127 499.08 1127.45 500.71 1127.88 502.35 1128.29 503.99 1128.69 505.63 1129.06 507.27 1129.41 508.9 1129.74 510.54 1130.05 512.18 1130.33 513.82 1130.6 515.46 1130.84 517.09 1131.06 518.73 1131.26 520.37 1131.43 522.01 1131.58 523.65 1131.7 525.28 1131.8 526.92 1131.88 528.56 1131.93 530.2 1131.96 531.84 1131.96 533.47 1131.93 535.11 1131.88 536.75 1131.81 538.39 1131.7 540.03 1131.57 541.66 1131.41 543.3 1131.22 544.94 1131.01 546.58 1130.76 548.22 1130.49 549.85 1130.19 551.49 1129.86 553.13 1129.5 554.77 1129.11 556.41 1128.68 558.04 1128.23 559.68 1127.75 561.32 1127.23 562.96 1126.69 564.6 1126.11 566.23 1125.5 567.87 1124.86 569.51 1124.18 571.15 1123.47 572.79 1122.73 574.42 1121.95 576.06 1121.14 577.7 1120.29 579.34 1119.41 580.98 1118.5 582.61 1117.56 584.25 1116.58 585.89 1115.58 587.53 1114.56 589.17 1113.51 590.8 1112.44 592.44 1111.35 594.08 1110.25 595.72 1109.13 597.36 1107.99 598.99 1106.85 600.63 1105.69 602.27 1104.53 603.91 1103.36 605.55 1102.19 607.18 1101.02 608.82 1099.85 610.46 1098.68 612.1 1097.51 613.74 1096.35 615.37 1095.2 617.01 1094.06 618.65 1092.94 620.29 1091.82 621.93 1090.72 623.56 1089.65 625.2 1088.59 626.84 1087.55 628.48 1086.54 630.12 1085.55 631.75 1084.59 633.39 1083.66 635.03 1082.76 636.67 1081.9 638.31 1081.07 639.94 1080.28 641.58 1079.53 643.22 1078.83 644.86 1078.16 646.5 1077.54 648.13 1076.97 649.77 1076.45 651.41 1075.98 653.05 1075.56 654.69 1075.2 656.32 1074.9 657.96 1074.66 659.6 1074.47 661.24 1074.35 662.88 1074.3 664.51 1074.3 666.15 1074.35 667.79 1074.46 669.43 1074.63 671.07 1074.84 672.7 1075.1 674.34 1075.4 675.98 1075.75 677.62 1076.14 679.26 1076.57 680.89 1077.04 682.53 1077.53 684.17 1078.06 685.81 1078.62 687.45 1079.21 689.08 1079.82 690.72 1080.46 692.36 1081.11 694 1081.79 695.64 1082.48 697.27 1083.18 698.91 1083.89 700.55 1084.62 702.19 1085.35 703.83 1086.08 705.46 1086.82 707.1 1087.56 708.74 1088.3 710.38 1089.03 712.02 1089.75 713.65 1090.47 715.29 1091.18 716.93 1091.87 718.57 1092.55 720.21 1093.2 721.84 1093.84 723.48 1094.46 725.12 1095.05 726.76 1095.62 728.4 1096.15 730.03 1096.66 731.67 1097.13 733.31 1097.56 734.95 1097.96 736.59 1098.31 738.22 1098.63 739.86 1098.9 741.5 1099.12 743.14 1099.29 744.78 1099.41 746.41 1099.49 748.05 1099.52 749.69 1099.51 751.33 1099.45 752.97 1099.34 754.6 1099.2 756.24 1099.01 757.88 1098.78 759.52 1098.52 761.16 1098.21 762.79 1097.87 764.43 1097.49 766.07 1097.07 767.71 1096.62 769.35 1096.14 770.98 1095.62 772.62 1095.08 774.26 1094.5 775.9 1093.89 777.54 1093.25 779.17 1092.59 780.81 1091.9 782.45 1091.18 784.09 1090.44 785.73 1089.67 787.36 1088.89 789 1088.08 790.64 1087.25 792.28 1086.4 793.92 1085.53 795.55 1084.64 797.19 1083.74 798.83 1082.82 800.47 1081.88 802.11 1080.93 803.74 1079.97 805.38 1079 807.02 1078.02 808.66 1077.02 810.3 1076.02 811.93 1075.01 813.57 1073.99 815.21 1072.97 816.85 1071.94 818.49 1070.91 820.12 1069.87 821.76 1068.84 823.4 1067.8" fill="none" stroke="#FF00FF" stroke-width="2.7" stroke-linejoin="round"/>
<path d="M168.2 872.47 169.84 873.91 171.48 875.34 173.11 876.78 174.75 878.22 176.39 879.67 178.03 881.12 179.67 882.58 181.3 884.04 182.94 885.51 184.58 886.99 186.22 888.48 187.86 889.98 189.49 891.49 191.13 893.01 192.77 894.54 194.41 896.09 196.05 897.66 197.68 899.24 199.32 900.84 200.96 902.46 202.6 904.09 204.24 905.75 205.87 907.42 207.51 909.12 209.15 910.84 210.79 912.59 212.43 914.36 214.06 916.15 215.7 917.97 217.34 919.82 218.98 921.7 220.62 923.61 222.25 925.55 223.89 927.52 225.53 929.52 227.17 931.55 228.81 933.62 230.44 935.72 232.08 937.86 233.72 940.04 235.36 942.26 237 944.51 238.63 946.8 240.27 949.14 241.91 951.52 243.55 953.93 245.19 956.4 246.82 958.91 248.46 961.46 250.1 964.06 251.74 966.7 253.38 969.4 255.01 972.13 256.65 974.9 258.29 977.71 259.93 980.56 261.57 983.44 263.2 986.35 264.84 989.28 266.48 992.24 268.12 995.22 269.76 998.22 271.39 1001.24 273.03 1004.27 274.67 1007.31 276.31 1010.37 277.95 1013.43 279.58 1016.49 281.22 1019.55 282.86 1022.62 284.5 1025.68 286.14 1028.73 287.77 1031.78 289.41 1034.81 291.05 1037.83 292.69 1040.83 294.33 1043.82 295.96 1046.78 297.6 1049.72 299.24 1052.63 300.88 1055.52 302.52 1058.37 304.15 1061.19 305.79 1063.97 307.43 1066.71 309.07 1069.41 310.71 1072.07 312.34 1074.67 313.98 1077.23 315.62 1079.74 317.26 1082.19 318.9 1084.58 320.53 1086.92 322.17 1089.19 323.81 1091.4 325.45 1093.54 327.09 1095.61 328.72 1097.61 330.36 1099.53 332 1101.38 333.64 1103.14 335.28 1104.83 336.91 1106.44 338.55 1107.98 340.19 1109.44 341.83 1110.84 343.47 1112.16 345.1 1113.43 346.74 1114.62 348.38 1115.76 350.02 1116.84 351.66 1117.86 353.29 1118.82 354.93 1119.74 356.57 1120.6 358.21 1121.41 359.85 1122.17 361.48 1122.89 363.12 1123.57 364.76 1124.2 366.4 1124.8 368.04 1125.36 369.67 1125.89 371.31 1126.38 372.95 1126.85 374.59 1127.28 376.23 1127.69 377.86 1128.08 379.5 1128.44 381.14 1128.78 382.78 1129.11 384.42 1129.42 386.05 1129.71 387.69 1129.99 389.33 1130.27 390.97 1130.54 392.61 1130.8 394.24 1131.05 395.88 1131.31 397.52 1131.57 399.16 1131.83 400.8 1132.09 402.43 1132.37 404.07 1132.65 405.71 1132.94 407.35 1133.25 408.99 1133.57 410.62 1133.91 412.26 1134.27 413.9 1134.65 415.54 1135.05 417.18 1135.48 418.81 1135.92 420.45 1136.39 422.09 1136.88 423.73 1137.39 425.37 1137.92 427 1138.46 428.64 1139.02 430.28 1139.6 431.92 1140.19 433.56 1140.8 435.19 1141.41 436.83 1142.05 438.47 1142.69 440.11 1143.34 441.75 1144 443.38 1144.68 445.02 1145.35 446.66 1146.04 448.3 1146.73 449.94 1147.43 451.57 1148.13 453.21 1148.84 454.85 1149.55 456.49 1150.26 458.13 1150.97 459.76 1151.68 461.4 1152.39 463.04 1153.1 464.68 1153.8 466.32 1154.51 467.95 1155.21 469.59 1155.9 471.23 1156.58 472.87 1157.26 474.51 1157.94 476.14 1158.6 477.78 1159.25 479.42 1159.9 481.06 1160.53 482.7 1161.15 484.33 1161.75 485.97 1162.34 487.61 1162.92 489.25 1163.48 490.89 1164.03 492.52 1164.56 494.16 1165.06 495.8 1165.55 497.44 1166.02 499.08 1166.47 500.71 1166.9 502.35 1167.31 503.99 1167.69 505.63 1168.06 507.27 1168.4 508.9 1168.72 510.54 1169.02 512.18 1169.29 513.82 1169.54 515.46 1169.77 517.09 1169.97 518.73 1170.15 520.37 1170.3 522.01 1170.43 523.65 1170.53 525.28 1170.61 526.92 1170.66 528.56 1170.68 530.2 1170.68 531.84 1170.65 533.47 1170.59 535.11 1170.51 536.75 1170.4 538.39 1170.25 540.03 1170.08 541.66 1169.89 543.3 1169.66 544.94 1169.4 546.58 1169.11 548.22 1168.79 549.85 1168.44 551.49 1168.06 553.13 1167.65 554.77 1167.21 556.41 1166.73 558.04 1166.23 559.68 1165.69 561.32 1165.11 562.96 1164.51 564.6 1163.87 566.23 1163.19 567.87 1162.48 569.51 1161.74 571.15 1160.96 572.79 1160.15 574.42 1159.3 576.06 1158.42 577.7 1157.49 579.34 1156.54 580.98 1155.54 582.61 1154.52 584.25 1153.46 585.89 1152.38 587.53 1151.27 589.17 1150.13 590.8 1148.97 592.44 1147.79 594.08 1146.6 595.72 1145.38 597.36 1144.15 598.99 1142.91 600.63 1141.66 602.27 1140.39 603.91 1139.12 605.55 1137.85 607.18 1136.57 608.82 1135.3 610.46 1134.02 612.1 1132.74 613.74 1131.48 615.37 1130.21 617.01 1128.96 618.65 1127.72 620.29 1126.49 621.93 1125.28 623.56 1124.08 625.2 1122.9 626.84 1121.74 628.48 1120.61 630.12 1119.5 631.75 1118.41 633.39 1117.36 635.03 1116.34 636.67 1115.35 638.31 1114.39 639.94 1113.47 641.58 1112.59 643.22 1111.75 644.86 1110.96 646.5 1110.2 648.13 1109.5 649.77 1108.84 651.41 1108.23 653.05 1107.68 654.69 1107.18 656.32 1106.74 657.96 1106.35 659.6 1106.03 661.24 1105.77 662.88 1105.57 664.51 1105.42 666.15 1105.33 667.79 1105.3 669.43 1105.31 671.07 1105.38 672.7 1105.49 674.34 1105.64 675.98 1105.84 677.62 1106.07 679.26 1106.34 680.89 1106.64 682.53 1106.98 684.17 1107.34 685.81 1107.74 687.45 1108.15 689.08 1108.59 690.72 1109.05 692.36 1109.53 694 1110.02 695.64 1110.53 697.27 1111.04 698.91 1111.57 700.55 1112.1 702.19 1112.63 703.83 1113.16 705.46 1113.7 707.1 1114.22 708.74 1114.75 710.38 1115.26 712.02 1115.77 713.65 1116.26 715.29 1116.73 716.93 1117.19 718.57 1117.63 720.21 1118.04 721.84 1118.43 723.48 1118.79 725.12 1119.12 726.76 1119.42 728.4 1119.69 730.03 1119.92 731.67 1120.11 733.31 1120.26 734.95 1120.36 736.59 1120.42 738.22 1120.43 739.86 1120.39 741.5 1120.3 743.14 1120.15 744.78 1119.94 746.41 1119.69 748.05 1119.38 749.69 1119.01 751.33 1118.6 752.97 1118.14 754.6 1117.63 756.24 1117.08 757.88 1116.48 759.52 1115.83 761.16 1115.15 762.79 1114.41 764.43 1113.64 766.07 1112.83 767.71 1111.98 769.35 1111.09 770.98 1110.16 772.62 1109.2 774.26 1108.21 775.9 1107.18 777.54 1106.12 779.17 1105.02 780.81 1103.9 782.45 1102.75 784.09 1101.57 785.73 1100.36 787.36 1099.13 789 1097.87 790.64 1096.59 792.28 1095.29 793.92 1093.97 795.55 1092.63 797.19 1091.26 798.83 1089.88 800.47 1088.49 802.11 1087.07 803.74 1085.65 805.38 1084.21 807.02 1082.75 808.66 1081.29 810.3 1079.82 811.93 1078.33 813.57 1076.84 815.21 1075.35 816.85 1073.84 818.49 1072.34 820.12 1070.83 821.76 1069.31 823.4 1067.8" fill="none" stroke="#008000" stroke-width="1.6" stroke-dasharray="8.1 5.8"/>
<path d="M168.2 872.47 169.84 874.38 171.48 876.3 173.11 878.22 174.75 880.14 176.39 882.06 178.03 883.99 179.67 885.92 181.3 887.85 182.94 889.8 184.58 891.75 186.22 893.71 187.86 895.68 189.49 897.66 191.13 899.65 192.77 901.65 194.41 903.66 196.05 905.69 197.68 907.73 199.32 909.78 200.96 911.85 202.6 913.94 204.24 916.04 205.87 918.17 207.51 920.31 209.15 922.47 210.79 924.65 212.43 926.85 214.06 929.08 215.7 931.33 217.34 933.6 218.98 935.9 220.62 938.22 222.25 940.57 223.89 942.95 225.53 945.35 227.17 947.78 228.81 950.24 230.44 952.74 232.08 955.26 233.72 957.82 235.36 960.41 237 963.03 238.63 965.69 240.27 968.38 241.91 971.11 243.55 973.88 245.19 976.68 246.82 979.52 248.46 982.4 250.1 985.33 251.74 988.29 253.38 991.29 255.01 994.33 256.65 997.4 258.29 1000.51 259.93 1003.64 261.57 1006.8 263.2 1009.98 264.84 1013.18 266.48 1016.41 268.12 1019.65 269.76 1022.9 271.39 1026.17 273.03 1029.44 274.67 1032.73 276.31 1036.01 277.95 1039.3 279.58 1042.59 281.22 1045.88 282.86 1049.16 284.5 1052.43 286.14 1055.69 287.77 1058.94 289.41 1062.18 291.05 1065.4 292.69 1068.59 294.33 1071.77 295.96 1074.92 297.6 1078.04 299.24 1081.14 300.88 1084.2 302.52 1087.22 304.15 1090.21 305.79 1093.16 307.43 1096.07 309.07 1098.93 310.71 1101.75 312.34 1104.52 313.98 1107.24 315.62 1109.9 317.26 1112.5 318.9 1115.05 320.53 1117.53 322.17 1119.95 323.81 1122.31 325.45 1124.59 327.09 1126.81 328.72 1128.95 330.36 1131.01 332 1133 333.64 1134.9 335.28 1136.73 336.91 1138.48 338.55 1140.15 340.19 1141.75 341.83 1143.29 343.47 1144.75 345.1 1146.14 346.74 1147.47 348.38 1148.74 350.02 1149.95 351.66 1151.1 353.29 1152.19 354.93 1153.23 356.57 1154.22 358.21 1155.16 359.85 1156.05 361.48 1156.89 363.12 1157.69 364.76 1158.44 366.4 1159.16 368.04 1159.84 369.67 1160.48 371.31 1161.09 372.95 1161.67 374.59 1162.22 376.23 1162.74 377.86 1163.23 379.5 1163.71 381.14 1164.16 382.78 1164.59 384.42 1165 386.05 1165.4 387.69 1165.79 389.33 1166.16 390.97 1166.53 392.61 1166.89 394.24 1167.24 395.88 1167.6 397.52 1167.95 399.16 1168.3 400.8 1168.65 402.43 1169.01 404.07 1169.38 405.71 1169.76 407.35 1170.15 408.99 1170.55 410.62 1170.97 412.26 1171.41 413.9 1171.87 415.54 1172.35 417.18 1172.85 418.81 1173.36 420.45 1173.9 422.09 1174.46 423.73 1175.04 425.37 1175.63 427 1176.23 428.64 1176.86 430.28 1177.49 431.92 1178.14 433.56 1178.81 435.19 1179.48 436.83 1180.16 438.47 1180.86 440.11 1181.56 441.75 1182.27 443.38 1182.99 445.02 1183.72 446.66 1184.45 448.3 1185.18 449.94 1185.92 451.57 1186.66 453.21 1187.4 454.85 1188.15 456.49 1188.89 458.13 1189.64 459.76 1190.38 461.4 1191.12 463.04 1191.86 464.68 1192.59 466.32 1193.32 467.95 1194.04 469.59 1194.75 471.23 1195.46 472.87 1196.16 474.51 1196.85 476.14 1197.53 477.78 1198.2 479.42 1198.86 481.06 1199.5 482.7 1200.13 484.33 1200.75 485.97 1201.35 487.61 1201.93 489.25 1202.5 490.89 1203.05 492.52 1203.58 494.16 1204.09 495.8 1204.58 497.44 1205.05 499.08 1205.49 500.71 1205.92 502.35 1206.32 503.99 1206.7 505.63 1207.06 507.27 1207.39 508.9 1207.7 510.54 1207.99 512.18 1208.25 513.82 1208.48 515.46 1208.69 517.09 1208.88 518.73 1209.04 520.37 1209.17 522.01 1209.28 523.65 1209.36 525.28 1209.41 526.92 1209.43 528.56 1209.43 530.2 1209.4 531.84 1209.34 533.47 1209.25 535.11 1209.13 536.75 1208.99 538.39 1208.81 540.03 1208.6 541.66 1208.36 543.3 1208.09 544.94 1207.79 546.58 1207.46 548.22 1207.1 549.85 1206.7 551.49 1206.27 553.13 1205.81 554.77 1205.31 556.41 1204.79 558.04 1204.22 559.68 1203.63 561.32 1202.99 562.96 1202.33 564.6 1201.62 566.23 1200.89 567.87 1200.11 569.51 1199.3 571.15 1198.46 572.79 1197.57 574.42 1196.65 576.06 1195.69 577.7 1194.69 579.34 1193.66 580.98 1192.59 582.61 1191.48 584.25 1190.34 585.89 1189.17 587.53 1187.98 589.17 1186.75 590.8 1185.51 592.44 1184.24 594.08 1182.95 595.72 1181.64 597.36 1180.31 598.99 1178.97 600.63 1177.62 602.27 1176.26 603.91 1174.89 605.55 1173.51 607.18 1172.13 608.82 1170.74 610.46 1169.36 612.1 1167.98 613.74 1166.6 615.37 1165.22 617.01 1163.86 618.65 1162.5 620.29 1161.16 621.93 1159.83 623.56 1158.51 625.2 1157.21 626.84 1155.94 628.48 1154.68 630.12 1153.45 631.75 1152.24 633.39 1151.06 635.03 1149.91 636.67 1148.79 638.31 1147.71 639.94 1146.66 641.58 1145.65 643.22 1144.68 644.86 1143.75 646.5 1142.86 648.13 1142.02 649.77 1141.23 651.41 1140.49 653.05 1139.8 654.69 1139.16 656.32 1138.58 657.96 1138.05 659.6 1137.59 661.24 1137.18 662.88 1136.84 664.51 1136.55 666.15 1136.32 667.79 1136.14 669.43 1136 671.07 1135.92 672.7 1135.88 674.34 1135.88 675.98 1135.92 677.62 1136 679.26 1136.11 680.89 1136.25 682.53 1136.42 684.17 1136.63 685.81 1136.85 687.45 1137.1 689.08 1137.36 690.72 1137.65 692.36 1137.95 694 1138.26 695.64 1138.58 697.27 1138.91 698.91 1139.24 700.55 1139.57 702.19 1139.91 703.83 1140.24 705.46 1140.57 707.1 1140.89 708.74 1141.2 710.38 1141.49 712.02 1141.78 713.65 1142.04 715.29 1142.29 716.93 1142.51 718.57 1142.71 720.21 1142.88 721.84 1143.02 723.48 1143.12 725.12 1143.2 726.76 1143.23 728.4 1143.23 730.03 1143.18 731.67 1143.09 733.31 1142.96 734.95 1142.77 736.59 1142.53 738.22 1142.24 739.86 1141.88 741.5 1141.47 743.14 1141 744.78 1140.47 746.41 1139.88 748.05 1139.23 749.69 1138.52 751.33 1137.76 752.97 1136.94 754.6 1136.07 756.24 1135.15 757.88 1134.17 759.52 1133.15 761.16 1132.08 762.79 1130.96 764.43 1129.8 766.07 1128.59 767.71 1127.34 769.35 1126.04 770.98 1124.71 772.62 1123.33 774.26 1121.92 775.9 1120.47 777.54 1118.98 779.17 1117.46 780.81 1115.9 782.45 1114.32 784.09 1112.7 785.73 1111.05 787.36 1109.38 789 1107.67 790.64 1105.94 792.28 1104.19 793.92 1102.41 795.55 1100.61 797.19 1098.79 798.83 1096.95 800.47 1095.09 802.11 1093.21 803.74 1091.32 805.38 1089.41 807.02 1087.49 808.66 1085.56 810.3 1083.61 811.93 1081.66 813.57 1079.69 815.21 1077.72 816.85 1075.75 818.49 1073.76 820.12 1071.78 821.76 1069.79 823.4 1067.8" fill="none" stroke="#000080" stroke-width="1.6" stroke-dasharray="8.1 5.8"/>
<path d="M168.2 872.47 169.84 874.86 171.48 877.26 173.11 879.65 174.75 882.05 176.39 884.45 178.03 886.85 179.67 889.26 181.3 891.67 182.94 894.09 184.58 896.51 186.22 898.94 187.86 901.38 189.49 903.83 191.13 906.28 192.77 908.75 194.41 911.22 196.05 913.71 197.68 916.21 199.32 918.72 200.96 921.25 202.6 923.79 204.24 926.34 205.87 928.91 207.51 931.49 209.15 934.09 210.79 936.71 212.43 939.35 214.06 942.01 215.7 944.68 217.34 947.38 218.98 950.09 220.62 952.83 222.25 955.59 223.89 958.37 225.53 961.18 227.17 964.01 228.81 966.87 230.44 969.75 232.08 972.66 233.72 975.59 235.36 978.56 237 981.55 238.63 984.57 240.27 987.62 241.91 990.7 243.55 993.82 245.19 996.96 246.82 1000.14 248.46 1003.35 250.1 1006.6 251.74 1009.88 253.38 1013.19 255.01 1016.53 256.65 1019.9 258.29 1023.3 259.93 1026.71 261.57 1030.15 263.2 1033.61 264.84 1037.09 266.48 1040.57 268.12 1044.07 269.76 1047.58 271.39 1051.1 273.03 1054.62 274.67 1058.14 276.31 1061.66 277.95 1065.18 279.58 1068.69 281.22 1072.2 282.86 1075.7 284.5 1079.18 286.14 1082.66 287.77 1086.11 289.41 1089.55 291.05 1092.96 292.69 1096.35 294.33 1099.72 295.96 1103.06 297.6 1106.36 299.24 1109.64 300.88 1112.88 302.52 1116.08 304.15 1119.24 305.79 1122.36 307.43 1125.43 309.07 1128.46 310.71 1131.44 312.34 1134.37 313.98 1137.24 315.62 1140.06 317.26 1142.81 318.9 1145.51 320.53 1148.14 322.17 1150.71 323.81 1153.21 325.45 1155.65 327.09 1158 328.72 1160.29 330.36 1162.49 332 1164.62 333.64 1166.66 335.28 1168.63 336.91 1170.52 338.55 1172.33 340.19 1174.07 341.83 1175.73 343.47 1177.33 345.1 1178.86 346.74 1180.32 348.38 1181.72 350.02 1183.06 351.66 1184.34 353.29 1185.56 354.93 1186.73 356.57 1187.84 358.21 1188.91 359.85 1189.92 361.48 1190.88 363.12 1191.8 364.76 1192.68 366.4 1193.52 368.04 1194.32 369.67 1195.08 371.31 1195.8 372.95 1196.49 374.59 1197.16 376.23 1197.79 377.86 1198.39 379.5 1198.98 381.14 1199.53 382.78 1200.07 384.42 1200.59 386.05 1201.09 387.69 1201.58 389.33 1202.06 390.97 1202.52 392.61 1202.98 394.24 1203.43 395.88 1203.88 397.52 1204.32 399.16 1204.77 400.8 1205.21 402.43 1205.66 404.07 1206.12 405.71 1206.58 407.35 1207.05 408.99 1207.54 410.62 1208.04 412.26 1208.55 413.9 1209.09 415.54 1209.64 417.18 1210.21 418.81 1210.81 420.45 1211.41 422.09 1212.04 423.73 1212.68 425.37 1213.34 427 1214.01 428.64 1214.69 430.28 1215.39 431.92 1216.1 433.56 1216.82 435.19 1217.54 436.83 1218.28 438.47 1219.03 440.11 1219.78 441.75 1220.54 443.38 1221.31 445.02 1222.08 446.66 1222.85 448.3 1223.63 449.94 1224.41 451.57 1225.19 453.21 1225.97 454.85 1226.75 456.49 1227.53 458.13 1228.3 459.76 1229.08 461.4 1229.85 463.04 1230.61 464.68 1231.37 466.32 1232.12 467.95 1232.87 469.59 1233.61 471.23 1234.34 472.87 1235.06 474.51 1235.76 476.14 1236.46 477.78 1237.14 479.42 1237.82 481.06 1238.47 482.7 1239.11 484.33 1239.74 485.97 1240.35 487.61 1240.94 489.25 1241.51 490.89 1242.07 492.52 1242.6 494.16 1243.11 495.8 1243.6 497.44 1244.07 499.08 1244.52 500.71 1244.94 502.35 1245.34 503.99 1245.71 505.63 1246.06 507.27 1246.38 508.9 1246.68 510.54 1246.96 512.18 1247.2 513.82 1247.42 515.46 1247.62 517.09 1247.79 518.73 1247.93 520.37 1248.04 522.01 1248.13 523.65 1248.18 525.28 1248.21 526.92 1248.21 528.56 1248.18 530.2 1248.12 531.84 1248.03 533.47 1247.91 535.11 1247.76 536.75 1247.58 538.39 1247.36 540.03 1247.12 541.66 1246.84 543.3 1246.53 544.94 1246.19 546.58 1245.81 548.22 1245.4 549.85 1244.96 551.49 1244.48 553.13 1243.97 554.77 1243.42 556.41 1242.84 558.04 1242.22 559.68 1241.56 561.32 1240.87 562.96 1240.15 564.6 1239.38 566.23 1238.58 567.87 1237.74 569.51 1236.86 571.15 1235.95 572.79 1234.99 574.42 1234 576.06 1232.97 577.7 1231.89 579.34 1230.78 580.98 1229.63 582.61 1228.44 584.25 1227.22 585.89 1225.97 587.53 1224.69 589.17 1223.37 590.8 1222.04 592.44 1220.68 594.08 1219.29 595.72 1217.89 597.36 1216.47 598.99 1215.03 600.63 1213.58 602.27 1212.12 603.91 1210.65 605.55 1209.17 607.18 1207.68 608.82 1206.19 610.46 1204.7 612.1 1203.21 613.74 1201.72 615.37 1200.23 617.01 1198.75 618.65 1197.28 620.29 1195.82 621.93 1194.38 623.56 1192.94 625.2 1191.53 626.84 1190.13 628.48 1188.75 630.12 1187.4 631.75 1186.06 633.39 1184.76 635.03 1183.48 636.67 1182.24 638.31 1181.03 639.94 1179.85 641.58 1178.71 643.22 1177.6 644.86 1176.54 646.5 1175.52 648.13 1174.55 649.77 1173.62 651.41 1172.74 653.05 1171.91 654.69 1171.13 656.32 1170.41 657.96 1169.75 659.6 1169.14 661.24 1168.6 662.88 1168.11 664.51 1167.68 666.15 1167.3 667.79 1166.97 669.43 1166.69 671.07 1166.46 672.7 1166.27 674.34 1166.12 675.98 1166 677.62 1165.92 679.26 1165.88 680.89 1165.86 682.53 1165.87 684.17 1165.91 685.81 1165.96 687.45 1166.04 689.08 1166.13 690.72 1166.24 692.36 1166.36 694 1166.49 695.64 1166.63 697.27 1166.77 698.91 1166.91 700.55 1167.05 702.19 1167.19 703.83 1167.32 705.46 1167.44 707.1 1167.55 708.74 1167.65 710.38 1167.73 712.02 1167.79 713.65 1167.83 715.29 1167.84 716.93 1167.83 718.57 1167.78 720.21 1167.71 721.84 1167.6 723.48 1167.46 725.12 1167.27 726.76 1167.04 728.4 1166.77 730.03 1166.45 731.67 1166.08 733.31 1165.65 734.95 1165.17 736.59 1164.64 738.22 1164.04 739.86 1163.38 741.5 1162.65 743.14 1161.86 744.78 1161 746.41 1160.07 748.05 1159.08 749.69 1158.03 751.33 1156.91 752.97 1155.74 754.6 1154.51 756.24 1153.22 757.88 1151.87 759.52 1150.47 761.16 1149.01 762.79 1147.51 764.43 1145.95 766.07 1144.35 767.71 1142.69 769.35 1140.99 770.98 1139.25 772.62 1137.46 774.26 1135.63 775.9 1133.76 777.54 1131.84 779.17 1129.9 780.81 1127.91 782.45 1125.89 784.09 1123.83 785.73 1121.74 787.36 1119.62 789 1117.47 790.64 1115.29 792.28 1113.09 793.92 1110.85 795.55 1108.6 797.19 1106.32 798.83 1104.02 800.47 1101.69 802.11 1099.35 803.74 1096.99 805.38 1094.62 807.02 1092.23 808.66 1089.82 810.3 1087.41 811.93 1084.98 813.57 1082.54 815.21 1080.1 816.85 1077.65 818.49 1075.19 820.12 1072.73 821.76 1070.27 823.4 1067.8" fill="none" stroke="#8000FF" stroke-width="1.6" stroke-dasharray="8.1 5.8"/>
<path d="M168.2 872.47 169.84 875.34 171.48 878.21 173.11 881.08 174.75 883.96 176.39 886.84 178.03 889.71 179.67 892.6 181.3 895.48 182.94 898.38 184.58 901.27 186.22 904.17 187.86 907.08 189.49 910 191.13 912.92 192.77 915.85 194.41 918.79 196.05 921.74 197.68 924.7 199.32 927.66 200.96 930.64 202.6 933.63 204.24 936.64 205.87 939.65 207.51 942.68 209.15 945.72 210.79 948.78 212.43 951.85 214.06 954.93 215.7 958.03 217.34 961.15 218.98 964.29 220.62 967.44 222.25 970.61 223.89 973.8 225.53 977.01 227.17 980.24 228.81 983.49 230.44 986.76 232.08 990.06 233.72 993.37 235.36 996.71 237 1000.07 238.63 1003.45 240.27 1006.86 241.91 1010.3 243.55 1013.76 245.19 1017.24 246.82 1020.76 248.46 1024.3 250.1 1027.87 251.74 1031.46 253.38 1035.08 255.01 1038.73 256.65 1042.4 258.29 1046.09 259.93 1049.79 261.57 1053.51 263.2 1057.25 264.84 1060.99 266.48 1064.74 268.12 1068.5 269.76 1072.26 271.39 1076.03 273.03 1079.79 274.67 1083.55 276.31 1087.31 277.95 1091.06 279.58 1094.8 281.22 1098.53 282.86 1102.24 284.5 1105.94 286.14 1109.62 287.77 1113.28 289.41 1116.92 291.05 1120.53 292.69 1124.11 294.33 1127.67 295.96 1131.19 297.6 1134.68 299.24 1138.14 300.88 1141.56 302.52 1144.93 304.15 1148.26 305.79 1151.55 307.43 1154.79 309.07 1157.98 310.71 1161.12 312.34 1164.21 313.98 1167.24 315.62 1170.21 317.26 1173.12 318.9 1175.97 320.53 1178.76 322.17 1181.47 323.81 1184.12 325.45 1186.7 327.09 1189.2 328.72 1191.63 330.36 1193.97 332 1196.24 333.64 1198.43 335.28 1200.53 336.91 1202.56 338.55 1204.51 340.19 1206.38 341.83 1208.18 343.47 1209.91 345.1 1211.58 346.74 1213.17 348.38 1214.7 350.02 1216.17 351.66 1217.58 353.29 1218.93 354.93 1220.23 356.57 1221.47 358.21 1222.65 359.85 1223.79 361.48 1224.88 363.12 1225.92 364.76 1226.92 366.4 1227.88 368.04 1228.79 369.67 1229.67 371.31 1230.51 372.95 1231.32 374.59 1232.09 376.23 1232.84 377.86 1233.55 379.5 1234.24 381.14 1234.91 382.78 1235.56 384.42 1236.18 386.05 1236.79 387.69 1237.38 389.33 1237.95 390.97 1238.52 392.61 1239.07 394.24 1239.62 395.88 1240.16 397.52 1240.7 399.16 1241.24 400.8 1241.77 402.43 1242.31 404.07 1242.85 405.71 1243.4 407.35 1243.96 408.99 1244.53 410.62 1245.11 412.26 1245.7 413.9 1246.31 415.54 1246.94 417.18 1247.58 418.81 1248.25 420.45 1248.93 422.09 1249.62 423.73 1250.33 425.37 1251.05 427 1251.78 428.64 1252.53 430.28 1253.28 431.92 1254.05 433.56 1254.83 435.19 1255.61 436.83 1256.4 438.47 1257.2 440.11 1258 441.75 1258.81 443.38 1259.62 445.02 1260.44 446.66 1261.25 448.3 1262.07 449.94 1262.89 451.57 1263.71 453.21 1264.53 454.85 1265.35 456.49 1266.16 458.13 1266.97 459.76 1267.77 461.4 1268.57 463.04 1269.37 464.68 1270.15 466.32 1270.93 467.95 1271.7 469.59 1272.46 471.23 1273.21 472.87 1273.95 474.51 1274.68 476.14 1275.39 477.78 1276.09 479.42 1276.77 481.06 1277.44 482.7 1278.1 484.33 1278.73 485.97 1279.35 487.61 1279.95 489.25 1280.53 490.89 1281.09 492.52 1281.62 494.16 1282.14 495.8 1282.63 497.44 1283.1 499.08 1283.54 500.71 1283.96 502.35 1284.35 503.99 1284.72 505.63 1285.06 507.27 1285.37 508.9 1285.66 510.54 1285.92 512.18 1286.16 513.82 1286.37 515.46 1286.55 517.09 1286.7 518.73 1286.82 520.37 1286.91 522.01 1286.97 523.65 1287.01 525.28 1287.01 526.92 1286.99 528.56 1286.93 530.2 1286.84 531.84 1286.72 533.47 1286.57 535.11 1286.38 536.75 1286.17 538.39 1285.92 540.03 1285.63 541.66 1285.32 543.3 1284.96 544.94 1284.58 546.58 1284.16 548.22 1283.7 549.85 1283.21 551.49 1282.69 553.13 1282.12 554.77 1281.52 556.41 1280.89 558.04 1280.21 559.68 1279.5 561.32 1278.75 562.96 1277.96 564.6 1277.14 566.23 1276.27 567.87 1275.37 569.51 1274.42 571.15 1273.44 572.79 1272.41 574.42 1271.35 576.06 1270.24 577.7 1269.09 579.34 1267.9 580.98 1266.67 582.61 1265.4 584.25 1264.1 585.89 1262.76 587.53 1261.39 589.17 1260 590.8 1258.57 592.44 1257.12 594.08 1255.64 595.72 1254.14 597.36 1252.63 598.99 1251.09 600.63 1249.54 602.27 1247.98 603.91 1246.41 605.55 1244.82 607.18 1243.23 608.82 1241.64 610.46 1240.04 612.1 1238.44 613.74 1236.84 615.37 1235.24 617.01 1233.65 618.65 1232.07 620.29 1230.49 621.93 1228.93 623.56 1227.38 625.2 1225.84 626.84 1224.32 628.48 1222.82 630.12 1221.34 631.75 1219.89 633.39 1218.46 635.03 1217.06 636.67 1215.69 638.31 1214.34 639.94 1213.04 641.58 1211.76 643.22 1210.53 644.86 1209.33 646.5 1208.18 648.13 1207.07 649.77 1206.01 651.41 1204.99 653.05 1204.03 654.69 1203.11 656.32 1202.25 657.96 1201.45 659.6 1200.7 661.24 1200.01 662.88 1199.38 664.51 1198.81 666.15 1198.28 667.79 1197.81 669.43 1197.38 671.07 1197 672.7 1196.66 674.34 1196.35 675.98 1196.08 677.62 1195.85 679.26 1195.64 680.89 1195.47 682.53 1195.32 684.17 1195.19 685.81 1195.08 687.45 1194.98 689.08 1194.91 690.72 1194.84 692.36 1194.78 694 1194.73 695.64 1194.68 697.27 1194.63 698.91 1194.58 700.55 1194.53 702.19 1194.47 703.83 1194.4 705.46 1194.31 707.1 1194.21 708.74 1194.1 710.38 1193.96 712.02 1193.8 713.65 1193.61 715.29 1193.39 716.93 1193.15 718.57 1192.86 720.21 1192.55 721.84 1192.19 723.48 1191.79 725.12 1191.34 726.76 1190.85 728.4 1190.31 730.03 1189.71 731.67 1189.06 733.31 1188.35 734.95 1187.58 736.59 1186.74 738.22 1185.84 739.86 1184.87 741.5 1183.83 743.14 1182.71 744.78 1181.53 746.41 1180.26 748.05 1178.93 749.69 1177.54 751.33 1176.07 752.97 1174.54 754.6 1172.94 756.24 1171.28 757.88 1169.56 759.52 1167.79 761.16 1165.95 762.79 1164.05 764.43 1162.11 766.07 1160.1 767.71 1158.05 769.35 1155.94 770.98 1153.79 772.62 1151.59 774.26 1149.34 775.9 1147.05 777.54 1144.71 779.17 1142.33 780.81 1139.91 782.45 1137.46 784.09 1134.96 785.73 1132.43 787.36 1129.87 789 1127.27 790.64 1124.64 792.28 1121.98 793.92 1119.3 795.55 1116.58 797.19 1113.85 798.83 1111.08 800.47 1108.3 802.11 1105.49 803.74 1102.67 805.38 1099.83 807.02 1096.97 808.66 1094.09 810.3 1091.2 811.93 1088.3 813.57 1085.4 815.21 1082.48 816.85 1079.55 818.49 1076.62 820.12 1073.68 821.76 1070.74 823.4 1067.8" fill="none" stroke="#800080" stroke-width="1.6" stroke-dasharray="8.1 5.8"/>
<rect x="164.7" y="868.97" width="7" height="7" fill="#000000"/>
<rect x="246.6" y="875.48" width="7" height="7" fill="#000000"/>
<rect x="328.5" y="971.39" width="7" height="7" fill="#000000"/>
<rect x="410.4" y="982.26" width="7" height="7" fill="#000000"/>
<rect x="492.3" y="1005.95" width="7" height="7" fill="#000000"/>
<rect x="574.2" y="1005.2" width="7" height="7" fill="#000000"/>
<rect x="656.1" y="976.3" width="7" height="7" fill="#000000"/>
<rect x="738" y="1032.08" width="7" height="7" fill="#000000"/>
<rect x="819.9" y="1064.3" width="7" height="7" fill="#000000"/>
<circle cx="168.2" cy="872.47" r="4" fill="#FF0000"/>
<circle cx="250.1" cy="900.25" r="4" fill="#FF0000"/>
<circle cx="332" cy="1006.51" r="4" fill="#FF0000"/>
<circle cx="413.9" cy="1022.98" r="4" fill="#FF0000"/>
<circle cx="495.8" cy="1048.48" r="4" fill="#FF0000"/>
<circle cx="577.7" cy="1045.9" r="4" fill="#FF0000"/>
<circle cx="659.6" cy="1011.36" r="4" fill="#FF0000"/>
<circle cx="741.5" cy="1056.76" r="4" fill="#FF0000"/>
<circle cx="823.4" cy="1067.8" r="4" fill="#FF0000"/>
<path d="M168.2 866.6L172.9 875.4L163.5 875.4Z" fill="#0000FF"/>
<path d="M250.1 915.65L254.8 924.45L245.4 924.45Z" fill="#0000FF"/>
<path d="M332 1032.26L336.7 1041.06L327.3 1041.06Z" fill="#0000FF"/>
<path d="M413.9 1054.34L418.6 1063.14L409.2 1063.14Z" fill="#0000FF"/>
<path d="M495.8 1081.64L500.5 1090.44L491.1 1090.44Z" fill="#0000FF"/>
<path d="M577.7 1077.23L582.4 1086.03L573 1086.03Z" fill="#0000FF"/>
<path d="M659.6 1037.05L664.3 1045.85L654.9 1045.85Z" fill="#0000FF"/>
<path d="M741.5 1072.07L746.2 1080.87L736.8 1080.87Z" fill="#0000FF"/>
<path d="M823.4 1061.93L828.1 1070.73L818.7 1070.73Z" fill="#0000FF"/>
<path d="M168.2 883.27L177.6 867.07L158.8 867.07Z" fill="#FF00FF"/>
<path d="M250.1 953.59L259.5 937.39L240.7 937.39Z" fill="#FF00FF"/>
<path d="M332 1080.55L341.4 1064.35L322.6 1064.35Z" fill="#FF00FF"/>
<path d="M413.9 1108.23L423.3 1092.03L404.5 1092.03Z" fill="#FF00FF"/>
<path d="M495.8 1137.33L505.2 1121.13L486.4 1121.13Z" fill="#FF00FF"/>
<path d="M577.7 1131.09L587.1 1114.89L568.3 1114.89Z" fill="#FF00FF"/>
<path d="M659.6 1085.27L669 1069.07L650.2 1069.07Z" fill="#FF00FF"/>
<path d="M741.5 1109.92L750.9 1093.72L732.1 1093.72Z" fill="#FF00FF"/>
<path d="M823.4 1078.6L832.8 1062.4L814 1062.4Z" fill="#FF00FF"/>
<path d="M168.2 867.37L173.3 872.47L168.2 877.57L163.1 872.47Z" fill="#008000"/>
<path d="M250.1 958.96L255.2 964.06L250.1 969.16L245 964.06Z" fill="#008000"/>
<path d="M332 1096.28L337.1 1101.38L332 1106.48L326.9 1101.38Z" fill="#008000"/>
<path d="M413.9 1129.55L419 1134.65L413.9 1139.75L408.8 1134.65Z" fill="#008000"/>
<path d="M495.8 1160.45L500.9 1165.55L495.8 1170.65L490.7 1165.55Z" fill="#008000"/>
<path d="M577.7 1152.39L582.8 1157.49L577.7 1162.59L572.6 1157.49Z" fill="#008000"/>
<path d="M659.6 1100.93L664.7 1106.03L659.6 1111.13L654.5 1106.03Z" fill="#008000"/>
<path d="M741.5 1115.2L746.6 1120.3L741.5 1125.4L736.4 1120.3Z" fill="#008000"/>
<path d="M823.4 1062.7L828.5 1067.8L823.4 1072.9L818.3 1067.8Z" fill="#008000"/>
<path d="M162.6 872.47L171 868.17L171 876.77Z" fill="#000080"/>
<path d="M244.5 985.33L252.9 981.03L252.9 989.63Z" fill="#000080"/>
<path d="M326.4 1133L334.8 1128.7L334.8 1137.3Z" fill="#000080"/>
<path d="M408.3 1171.87L416.7 1167.57L416.7 1176.17Z" fill="#000080"/>
<path d="M490.2 1204.58L498.6 1200.28L498.6 1208.88Z" fill="#000080"/>
<path d="M572.1 1194.69L580.5 1190.39L580.5 1198.99Z" fill="#000080"/>
<path d="M654 1137.59L662.4 1133.29L662.4 1141.89Z" fill="#000080"/>
<path d="M735.9 1141.47L744.3 1137.17L744.3 1145.77Z" fill="#000080"/>
<path d="M817.8 1067.8L826.2 1063.5L826.2 1072.1Z" fill="#000080"/>
<path d="M173.93 872.47L165.33 867.87L165.33 877.07Z" fill="#8000FF"/>
<path d="M255.83 1006.6L247.23 1002L247.23 1011.2Z" fill="#8000FF"/>
<path d="M337.73 1164.62L329.13 1160.02L329.13 1169.22Z" fill="#8000FF"/>
<path d="M419.63 1209.09L411.03 1204.49L411.03 1213.69Z" fill="#8000FF"/>
<path d="M501.53 1243.6L492.93 1239L492.93 1248.2Z" fill="#8000FF"/>
<path d="M583.43 1231.89L574.83 1227.29L574.83 1236.49Z" fill="#8000FF"/>
<path d="M665.33 1169.14L656.73 1164.54L656.73 1173.74Z" fill="#8000FF"/>
<path d="M747.23 1162.65L738.63 1158.05L738.63 1167.25Z" fill="#8000FF"/>
<path d="M829.13 1067.8L820.53 1063.2L820.53 1072.4Z" fill="#8000FF"/>
<path d="M168.2 868.07L172.2 870.27L172.2 874.67L168.2 876.87L164.2 874.67L164.2 870.27Z" fill="#800080"/>
<path d="M250.1 1023.47L254.1 1025.67L254.1 1030.07L250.1 1032.27L246.1 1030.07L246.1 1025.67Z" fill="#800080"/>
<path d="M332 1191.84L336 1194.04L336 1198.44L332 1200.64L328 1198.44L328 1194.04Z" fill="#800080"/>
<path d="M413.9 1241.91L417.9 1244.11L417.9 1248.51L413.9 1250.71L409.9 1248.51L409.9 1244.11Z" fill="#800080"/>
<path d="M495.8 1278.23L499.8 1280.43L499.8 1284.83L495.8 1287.03L491.8 1284.83L491.8 1280.43Z" fill="#800080"/>
<path d="M577.7 1264.69L581.7 1266.89L581.7 1271.29L577.7 1273.49L573.7 1271.29L573.7 1266.89Z" fill="#800080"/>
<path d="M659.6 1196.3L663.6 1198.5L663.6 1202.9L659.6 1205.1L655.6 1202.9L655.6 1198.5Z" fill="#800080"/>
<path d="M741.5 1179.43L745.5 1181.63L745.5 1186.03L741.5 1188.23L737.5 1186.03L737.5 1181.63Z" fill="#800080"/>
<path d="M823.4 1063.4L827.4 1065.6L827.4 1070L823.4 1072.2L819.4 1070L819.4 1065.6Z" fill="#800080"/>
<rect x="102.68" y="807.36" width="786.24" height="585.99" fill="none" stroke="#000" stroke-width="2.3"/>
<line x1="168.2" y1="1393.35" x2="168.2" y2="1382.35" stroke="#000" stroke-width="1.8"/>
<line x1="233.72" y1="1393.35" x2="233.72" y2="1387.85" stroke="#000" stroke-width="1.8"/>
<line x1="299.24" y1="1393.35" x2="299.24" y2="1382.35" stroke="#000" stroke-width="1.8"/>
<line x1="364.76" y1="1393.35" x2="364.76" y2="1387.85" stroke="#000" stroke-width="1.8"/>
<line x1="430.28" y1="1393.35" x2="430.28" y2="1382.35" stroke="#000" stroke-width="1.8"/>
<line x1="495.8" y1="1393.35" x2="495.8" y2="1387.85" stroke="#000" stroke-width="1.8"/>
<line x1="561.32" y1="1393.35" x2="561.32" y2="1382.35" stroke="#000" stroke-width="1.8"/>
<line x1="626.84" y1="1393.35" x2="626.84" y2="1387.85" stroke="#000" stroke-width="1.8"/>
<line x1="692.36" y1="1393.35" x2="692.36" y2="1382.35" stroke="#000" stroke-width="1.8"/>
<line x1="757.88" y1="1393.35" x2="757.88" y2="1387.85" stroke="#000" stroke-width="1.8"/>
<line x1="823.4" y1="1393.35" x2="823.4" y2="1382.35" stroke="#000" stroke-width="1.8"/>
<line x1="102.68" y1="1328.24" x2="113.68" y2="1328.24" stroke="#000" stroke-width="1.8"/>
<line x1="102.68" y1="1263.13" x2="108.18" y2="1263.13" stroke="#000" stroke-width="1.8"/>
<line x1="102.68" y1="1198.02" x2="113.68" y2="1198.02" stroke="#000" stroke-width="1.8"/>
<line x1="102.68" y1="1132.91" x2="108.18" y2="1132.91" stroke="#000" stroke-width="1.8"/>
<line x1="102.68" y1="1067.8" x2="113.68" y2="1067.8" stroke="#000" stroke-width="1.8"/>
<line x1="102.68" y1="1002.69" x2="108.18" y2="1002.69" stroke="#000" stroke-width="1.8"/>
<line x1="102.68" y1="937.58" x2="113.68" y2="937.58" stroke="#000" stroke-width="1.8"/>
<line x1="102.68" y1="872.47" x2="108.18" y2="872.47" stroke="#000" stroke-width="1.8"/>
<text x="168.2" y="1429.75" class="tk" text-anchor="middle">0</text>
<text x="299.24" y="1429.75" class="tk" text-anchor="middle">20</text>
<text x="430.28" y="1429.75" class="tk" text-anchor="middle">40</text>
<text x="561.32" y="1429.75" class="tk" text-anchor="middle">60</text>
<text x="692.36" y="1429.75" class="tk" text-anchor="middle">80</text>
<text x="823.4" y="1429.75" class="tk" text-anchor="middle">100</text>
<text x="90.18" y="1337.84" class="tk" text-anchor="end">-40</text>
<text x="90.18" y="1207.62" class="tk" text-anchor="end">-20</text>
<text x="90.18" y="1077.4" class="tk" text-anchor="end">0</text>
<text x="90.18" y="947.18" class="tk" text-anchor="end">20</text>
<text x="90.18" y="816.96" class="tk" text-anchor="end">40</text>
<text x="495.6" y="1486.2" class="ti" text-anchor="middle">Atomic fraction of Ta (at%)</text>
<text transform="translate(35.2 1100) rotate(-90)" class="ti" text-anchor="middle">&#916;<tspan font-style="italic">G</tspan> (meV/atom)</text>
<text transform="translate(1.6 819) scale(0.973 1.064)" class="pl">B</text>
<text transform="translate(558 1002.8) scale(1 1.015)" class="lb" text-anchor="end">0 K</text>
<text transform="translate(558.5 1042.2) scale(1 1.015)" class="lb" text-anchor="end">100 K</text>
<text transform="translate(555.4 1082.1) scale(1 1.015)" class="lb" text-anchor="end">200 K</text>
<text transform="translate(554.3 1118.4) scale(1 1.015)" class="lb" text-anchor="end">300 K</text>
<text transform="translate(557.4 1158) scale(1 1.015)" class="lb" text-anchor="end">400 K</text>
<text transform="translate(558.5 1195.8) scale(1 1.015)" class="lb" text-anchor="end">500 K</text>
<text transform="translate(553.3 1233.5) scale(1 1.015)" class="lb" text-anchor="end">600 K</text>
<text transform="translate(558 1273.6) scale(1 1.015)" class="lb" text-anchor="end">700 K</text>
<line x1="260.1" y1="842" x2="310.6" y2="842" stroke="#000000" stroke-width="1.6" stroke-dasharray="8.2 5.9"/>
<rect x="285" y="838.5" width="7" height="7" fill="#000000"/>
<text transform="translate(323.1 850.1) scale(1 1.13)" class="lg">0 K</text>
<line x1="389.4" y1="842" x2="439.9" y2="842" stroke="#FF0000" stroke-width="1.6" stroke-dasharray="8.2 5.9"/>
<circle cx="417.8" cy="842" r="4" fill="#FF0000"/>
<text transform="translate(452.4 850.1) scale(1 1.13)" class="lg">100 K</text>
<line x1="518.7" y1="842" x2="569.2" y2="842" stroke="#0000FF" stroke-width="1.6" stroke-dasharray="8.2 5.9"/>
<path d="M547.1 836.13L551.8 844.93L542.4 844.93Z" fill="#0000FF"/>
<text transform="translate(581.7 850.1) scale(1 1.13)" class="lg">200 K</text>
<line x1="647.5" y1="842" x2="705" y2="842" stroke="#FF00FF" stroke-width="3"/>
<path d="M676.5 852.8L685.9 836.6L667.1 836.6Z" fill="#FF00FF"/>
<text transform="translate(711 850.1) scale(1 1.13)" class="lg">300 K</text>
<line x1="260.1" y1="873" x2="310.6" y2="873" stroke="#008000" stroke-width="1.6" stroke-dasharray="8.2 5.9"/>
<path d="M288.5 867.9L293.6 873L288.5 878.1L283.4 873Z" fill="#008000"/>
<text transform="translate(323.1 881.1) scale(1 1.13)" class="lg">400 K</text>
<line x1="389.4" y1="873" x2="439.9" y2="873" stroke="#000080" stroke-width="1.6" stroke-dasharray="8.2 5.9"/>
<path d="M412.2 873L420.6 868.7L420.6 877.3Z" fill="#000080"/>
<text transform="translate(452.4 881.1) scale(1 1.13)" class="lg">500 K</text>
<line x1="518.7" y1="873" x2="569.2" y2="873" stroke="#8000FF" stroke-width="1.6" stroke-dasharray="8.2 5.9"/>
<path d="M552.83 873L544.23 868.4L544.23 877.6Z" fill="#8000FF"/>
<text transform="translate(581.7 881.1) scale(1 1.13)" class="lg">600 K</text>
<line x1="648" y1="873" x2="698.5" y2="873" stroke="#800080" stroke-width="1.6" stroke-dasharray="8.2 5.9"/>
<path d="M676.4 868.6L680.4 870.8L680.4 875.2L676.4 877.4L672.4 875.2L672.4 870.8Z" fill="#800080"/>
<text transform="translate(711 881.1) scale(1 1.13)" class="lg">700 K</text>
</svg>
</body></html>
